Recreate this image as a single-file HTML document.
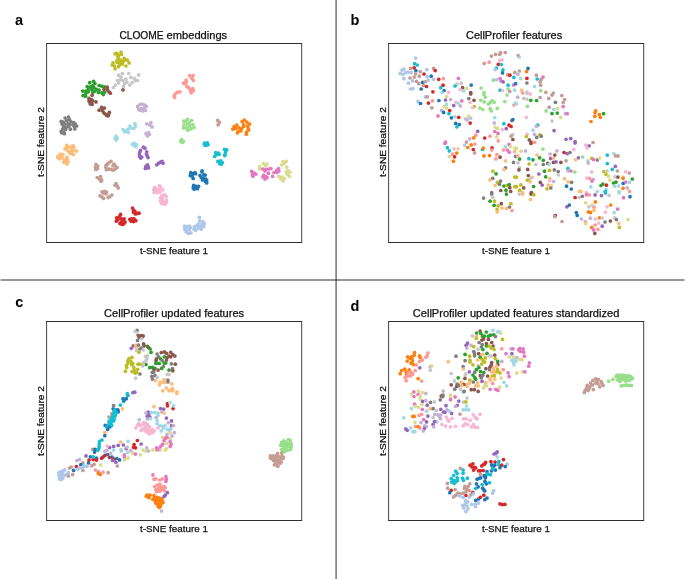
<!DOCTYPE html>
<html><head><meta charset="utf-8"><style>
html,body{margin:0;padding:0;background:#fff;width:685px;height:579px;overflow:hidden}
svg{position:absolute;left:0;top:0;display:block;will-change:transform}
text{font-family:"Liberation Sans",sans-serif;fill:#111;stroke:#111;stroke-width:0.25px}
.t{font-size:10.2px}
.ax{font-size:9.7px}
.lb{font-size:14.5px;font-weight:bold;fill:#000;stroke:none}
</style></head><body>
<svg width="685" height="579" viewBox="0 0 685 579">
<g stroke="#000" stroke-opacity="0.55" stroke-width="1.5" fill="none">
<line x1="336.1" y1="0" x2="336.1" y2="579"/>
<line x1="0.5" y1="280.05" x2="684.5" y2="280.05"/>
</g>
<text class="lb" x="15" y="25">a</text>
<text class="lb" x="350.5" y="25">b</text>
<text class="lb" x="15.2" y="307">c</text>
<text class="lb" x="350.5" y="310.6">d</text>
<text class="t" x="119.4" y="39.1" textLength="44.2" lengthAdjust="spacingAndGlyphs">CLOOME</text>
<text class="t" x="166.6" y="39.1" textLength="60.6" lengthAdjust="spacingAndGlyphs">embeddings</text>
<text class="t" x="466.0" y="39.1" textLength="96.2" lengthAdjust="spacingAndGlyphs">CellProfiler features</text>
<text class="t" x="104.1" y="316.5" textLength="140" lengthAdjust="spacingAndGlyphs">CellProfiler updated features</text>
<text class="t" x="412.8" y="316.5" textLength="206.5" lengthAdjust="spacingAndGlyphs">CellProfiler updated features standardized</text>
<text class="ax" x="140" y="253.8" textLength="68" lengthAdjust="spacingAndGlyphs">t-SNE feature 1</text>
<text class="ax" x="482" y="253.8" textLength="68" lengthAdjust="spacingAndGlyphs">t-SNE feature 1</text>
<text class="ax" x="140" y="531.8" textLength="68" lengthAdjust="spacingAndGlyphs">t-SNE feature 1</text>
<text class="ax" x="482" y="531.8" textLength="68" lengthAdjust="spacingAndGlyphs">t-SNE feature 1</text>
<text class="ax" transform="translate(43.8,177.1) rotate(-90)" textLength="70" lengthAdjust="spacingAndGlyphs">t-SNE feature 2</text>
<text class="ax" transform="translate(385.6,177.1) rotate(-90)" textLength="70" lengthAdjust="spacingAndGlyphs">t-SNE feature 2</text>
<text class="ax" transform="translate(43.8,456.1) rotate(-90)" textLength="70" lengthAdjust="spacingAndGlyphs">t-SNE feature 2</text>
<text class="ax" transform="translate(385.6,456.1) rotate(-90)" textLength="70" lengthAdjust="spacingAndGlyphs">t-SNE feature 2</text>
<g>
<circle cx="115.1" cy="53.8" r="1.85" fill="#bcbd22"/>
<circle cx="116.8" cy="53.4" r="1.85" fill="#bcbd22"/>
<circle cx="121.0" cy="52.0" r="1.85" fill="#bcbd22"/>
<circle cx="121.4" cy="54.5" r="1.85" fill="#bcbd22"/>
<circle cx="118.6" cy="55.2" r="1.85" fill="#bcbd22"/>
<circle cx="117.9" cy="57.3" r="1.85" fill="#bcbd22"/>
<circle cx="118.9" cy="59.4" r="1.85" fill="#bcbd22"/>
<circle cx="121.0" cy="60.4" r="1.85" fill="#bcbd22"/>
<circle cx="124.2" cy="58.3" r="1.85" fill="#bcbd22"/>
<circle cx="124.9" cy="60.1" r="1.85" fill="#bcbd22"/>
<circle cx="127.3" cy="60.1" r="1.85" fill="#bcbd22"/>
<circle cx="129.1" cy="62.9" r="1.85" fill="#bcbd22"/>
<circle cx="125.9" cy="66.0" r="1.85" fill="#bcbd22"/>
<circle cx="122.4" cy="63.9" r="1.85" fill="#bcbd22"/>
<circle cx="119.6" cy="63.2" r="1.85" fill="#bcbd22"/>
<circle cx="117.2" cy="62.5" r="1.85" fill="#bcbd22"/>
<circle cx="113.0" cy="62.9" r="1.85" fill="#bcbd22"/>
<circle cx="112.3" cy="65.0" r="1.85" fill="#bcbd22"/>
<circle cx="114.4" cy="66.0" r="1.85" fill="#bcbd22"/>
<circle cx="115.1" cy="68.8" r="1.85" fill="#bcbd22"/>
<circle cx="118.6" cy="66.7" r="1.85" fill="#bcbd22"/>
<circle cx="121.0" cy="62.5" r="1.85" fill="#bcbd22"/>
<circle cx="123.1" cy="61.8" r="1.85" fill="#bcbd22"/>
<circle cx="116.8" cy="60.8" r="1.85" fill="#bcbd22"/>
<circle cx="120.0" cy="64.6" r="1.85" fill="#bcbd22"/>
<circle cx="122.4" cy="73.5" r="1.85" fill="#c7c7c7"/>
<circle cx="118.6" cy="75.3" r="1.85" fill="#c7c7c7"/>
<circle cx="121.0" cy="77.0" r="1.85" fill="#c7c7c7"/>
<circle cx="128.7" cy="73.5" r="1.85" fill="#c7c7c7"/>
<circle cx="130.8" cy="77.4" r="1.85" fill="#c7c7c7"/>
<circle cx="138.5" cy="74.9" r="1.85" fill="#c7c7c7"/>
<circle cx="134.3" cy="78.4" r="1.85" fill="#c7c7c7"/>
<circle cx="137.5" cy="80.5" r="1.85" fill="#c7c7c7"/>
<circle cx="117.5" cy="80.5" r="1.85" fill="#c7c7c7"/>
<circle cx="120.3" cy="79.8" r="1.85" fill="#c7c7c7"/>
<circle cx="123.1" cy="80.5" r="1.85" fill="#c7c7c7"/>
<circle cx="125.9" cy="79.1" r="1.85" fill="#c7c7c7"/>
<circle cx="127.0" cy="82.3" r="1.85" fill="#c7c7c7"/>
<circle cx="124.5" cy="83.7" r="1.85" fill="#c7c7c7"/>
<circle cx="118.6" cy="83.0" r="1.85" fill="#c7c7c7"/>
<circle cx="115.4" cy="85.1" r="1.85" fill="#c7c7c7"/>
<circle cx="113.3" cy="87.5" r="1.85" fill="#c7c7c7"/>
<circle cx="123.5" cy="86.5" r="1.85" fill="#c7c7c7"/>
<circle cx="129.8" cy="85.1" r="1.85" fill="#c7c7c7"/>
<circle cx="132.2" cy="82.6" r="1.85" fill="#c7c7c7"/>
<circle cx="135.4" cy="80.5" r="1.85" fill="#c7c7c7"/>
<circle cx="93.5" cy="81.3" r="1.85" fill="#2ca02c"/>
<circle cx="89.7" cy="82.7" r="1.85" fill="#2ca02c"/>
<circle cx="94.9" cy="83.4" r="1.85" fill="#2ca02c"/>
<circle cx="92.8" cy="85.5" r="1.85" fill="#2ca02c"/>
<circle cx="87.2" cy="86.5" r="1.85" fill="#2ca02c"/>
<circle cx="90.4" cy="86.9" r="1.85" fill="#2ca02c"/>
<circle cx="93.9" cy="87.6" r="1.85" fill="#2ca02c"/>
<circle cx="99.1" cy="85.5" r="1.85" fill="#2ca02c"/>
<circle cx="101.9" cy="86.2" r="1.85" fill="#2ca02c"/>
<circle cx="104.4" cy="86.9" r="1.85" fill="#2ca02c"/>
<circle cx="88.3" cy="89.0" r="1.85" fill="#2ca02c"/>
<circle cx="91.8" cy="89.7" r="1.85" fill="#2ca02c"/>
<circle cx="96.3" cy="89.3" r="1.85" fill="#2ca02c"/>
<circle cx="82.7" cy="91.1" r="1.85" fill="#2ca02c"/>
<circle cx="85.8" cy="91.1" r="1.85" fill="#2ca02c"/>
<circle cx="88.3" cy="91.8" r="1.85" fill="#2ca02c"/>
<circle cx="92.8" cy="92.5" r="1.85" fill="#2ca02c"/>
<circle cx="98.4" cy="92.5" r="1.85" fill="#2ca02c"/>
<circle cx="101.9" cy="92.8" r="1.85" fill="#2ca02c"/>
<circle cx="104.7" cy="92.1" r="1.85" fill="#2ca02c"/>
<circle cx="103.3" cy="94.6" r="1.85" fill="#2ca02c"/>
<circle cx="83.0" cy="95.6" r="1.85" fill="#2ca02c"/>
<circle cx="85.5" cy="96.3" r="1.85" fill="#2ca02c"/>
<circle cx="85.8" cy="93.5" r="1.85" fill="#2ca02c"/>
<circle cx="94.9" cy="91.1" r="1.85" fill="#2ca02c"/>
<circle cx="99.1" cy="90.0" r="1.85" fill="#2ca02c"/>
<circle cx="107.2" cy="87.2" r="1.85" fill="#8c564b"/>
<circle cx="104.0" cy="89.3" r="1.85" fill="#8c564b"/>
<circle cx="107.5" cy="89.7" r="1.85" fill="#8c564b"/>
<circle cx="108.9" cy="91.8" r="1.85" fill="#8c564b"/>
<circle cx="110.3" cy="93.2" r="1.85" fill="#8c564b"/>
<circle cx="92.1" cy="95.3" r="1.85" fill="#8c564b"/>
<circle cx="89.0" cy="98.4" r="1.85" fill="#8c564b"/>
<circle cx="91.4" cy="99.5" r="1.85" fill="#8c564b"/>
<circle cx="92.8" cy="100.9" r="1.85" fill="#8c564b"/>
<circle cx="89.0" cy="100.9" r="1.85" fill="#8c564b"/>
<circle cx="90.0" cy="103.0" r="1.85" fill="#8c564b"/>
<circle cx="92.1" cy="104.4" r="1.85" fill="#8c564b"/>
<circle cx="96.0" cy="101.9" r="1.85" fill="#8c564b"/>
<circle cx="123.0" cy="89.9" r="1.85" fill="#8c564b"/>
<circle cx="91.4" cy="101.0" r="1.85" fill="#8c564b"/>
<circle cx="90.7" cy="104.2" r="1.85" fill="#8c564b"/>
<circle cx="101.6" cy="107.4" r="1.85" fill="#8c564b"/>
<circle cx="104.4" cy="108.1" r="1.85" fill="#8c564b"/>
<circle cx="99.1" cy="110.2" r="1.85" fill="#8c564b"/>
<circle cx="102.3" cy="110.5" r="1.85" fill="#8c564b"/>
<circle cx="103.7" cy="112.6" r="1.85" fill="#8c564b"/>
<circle cx="105.1" cy="114.0" r="1.85" fill="#8c564b"/>
<circle cx="106.8" cy="115.4" r="1.85" fill="#8c564b"/>
<circle cx="108.6" cy="114.4" r="1.85" fill="#8c564b"/>
<circle cx="109.3" cy="112.3" r="1.85" fill="#8c564b"/>
<circle cx="108.2" cy="115.8" r="1.85" fill="#8c564b"/>
<circle cx="123.0" cy="129.6" r="1.85" fill="#9edae5"/>
<circle cx="124.6" cy="131.8" r="1.85" fill="#9edae5"/>
<circle cx="126.6" cy="130.7" r="1.85" fill="#9edae5"/>
<circle cx="128.2" cy="129.1" r="1.85" fill="#9edae5"/>
<circle cx="128.2" cy="132.4" r="1.85" fill="#9edae5"/>
<circle cx="129.9" cy="126.0" r="1.85" fill="#9edae5"/>
<circle cx="131.3" cy="128.0" r="1.85" fill="#9edae5"/>
<circle cx="133.8" cy="128.5" r="1.85" fill="#9edae5"/>
<circle cx="134.9" cy="123.5" r="1.85" fill="#9edae5"/>
<circle cx="135.4" cy="126.3" r="1.85" fill="#9edae5"/>
<circle cx="116.1" cy="136.2" r="1.85" fill="#9edae5"/>
<circle cx="117.2" cy="137.9" r="1.85" fill="#9edae5"/>
<circle cx="115.0" cy="138.5" r="1.85" fill="#9edae5"/>
<circle cx="116.1" cy="140.1" r="1.85" fill="#9edae5"/>
<circle cx="132.1" cy="144.0" r="1.85" fill="#9edae5"/>
<circle cx="134.3" cy="143.4" r="1.85" fill="#9edae5"/>
<circle cx="136.5" cy="144.5" r="1.85" fill="#9edae5"/>
<circle cx="136.0" cy="146.7" r="1.85" fill="#9edae5"/>
<circle cx="133.8" cy="145.6" r="1.85" fill="#9edae5"/>
<circle cx="137.6" cy="106.4" r="1.85" fill="#c5b0d5"/>
<circle cx="139.9" cy="104.5" r="1.85" fill="#c5b0d5"/>
<circle cx="142.2" cy="104.1" r="1.85" fill="#c5b0d5"/>
<circle cx="144.8" cy="105.2" r="1.85" fill="#c5b0d5"/>
<circle cx="146.3" cy="106.4" r="1.85" fill="#c5b0d5"/>
<circle cx="138.7" cy="109.0" r="1.85" fill="#c5b0d5"/>
<circle cx="141.4" cy="108.6" r="1.85" fill="#c5b0d5"/>
<circle cx="144.1" cy="108.3" r="1.85" fill="#c5b0d5"/>
<circle cx="145.6" cy="110.5" r="1.85" fill="#c5b0d5"/>
<circle cx="142.5" cy="110.9" r="1.85" fill="#c5b0d5"/>
<circle cx="139.9" cy="110.2" r="1.85" fill="#c5b0d5"/>
<circle cx="146.7" cy="123.8" r="1.85" fill="#c5b0d5"/>
<circle cx="150.9" cy="122.7" r="1.85" fill="#c5b0d5"/>
<circle cx="149.8" cy="125.0" r="1.85" fill="#c5b0d5"/>
<circle cx="152.0" cy="126.9" r="1.85" fill="#c5b0d5"/>
<circle cx="146.0" cy="133.7" r="1.85" fill="#c5b0d5"/>
<circle cx="148.6" cy="132.6" r="1.85" fill="#c5b0d5"/>
<circle cx="147.5" cy="136.0" r="1.85" fill="#c5b0d5"/>
<circle cx="149.4" cy="134.5" r="1.85" fill="#c5b0d5"/>
<circle cx="65.1" cy="118.0" r="1.85" fill="#7f7f7f"/>
<circle cx="68.5" cy="117.1" r="1.85" fill="#7f7f7f"/>
<circle cx="61.2" cy="121.4" r="1.85" fill="#7f7f7f"/>
<circle cx="63.4" cy="122.1" r="1.85" fill="#7f7f7f"/>
<circle cx="66.6" cy="120.5" r="1.85" fill="#7f7f7f"/>
<circle cx="69.5" cy="119.7" r="1.85" fill="#7f7f7f"/>
<circle cx="70.9" cy="121.7" r="1.85" fill="#7f7f7f"/>
<circle cx="62.0" cy="124.1" r="1.85" fill="#7f7f7f"/>
<circle cx="64.9" cy="124.1" r="1.85" fill="#7f7f7f"/>
<circle cx="68.0" cy="123.6" r="1.85" fill="#7f7f7f"/>
<circle cx="70.0" cy="124.6" r="1.85" fill="#7f7f7f"/>
<circle cx="63.7" cy="126.5" r="1.85" fill="#7f7f7f"/>
<circle cx="66.6" cy="127.0" r="1.85" fill="#7f7f7f"/>
<circle cx="68.5" cy="126.5" r="1.85" fill="#7f7f7f"/>
<circle cx="70.4" cy="129.2" r="1.85" fill="#7f7f7f"/>
<circle cx="62.7" cy="128.9" r="1.85" fill="#7f7f7f"/>
<circle cx="65.6" cy="129.4" r="1.85" fill="#7f7f7f"/>
<circle cx="61.2" cy="131.3" r="1.85" fill="#7f7f7f"/>
<circle cx="63.7" cy="132.3" r="1.85" fill="#7f7f7f"/>
<circle cx="64.4" cy="133.7" r="1.85" fill="#7f7f7f"/>
<circle cx="61.7" cy="132.8" r="1.85" fill="#7f7f7f"/>
<circle cx="73.8" cy="122.6" r="1.85" fill="#7f7f7f"/>
<circle cx="75.3" cy="124.1" r="1.85" fill="#7f7f7f"/>
<circle cx="76.7" cy="126.0" r="1.85" fill="#7f7f7f"/>
<circle cx="74.3" cy="126.5" r="1.85" fill="#7f7f7f"/>
<circle cx="74.8" cy="128.9" r="1.85" fill="#7f7f7f"/>
<circle cx="73.3" cy="125.0" r="1.85" fill="#7f7f7f"/>
<circle cx="66.7" cy="145.3" r="1.85" fill="#ffbb78"/>
<circle cx="68.7" cy="146.8" r="1.85" fill="#ffbb78"/>
<circle cx="65.0" cy="148.7" r="1.85" fill="#ffbb78"/>
<circle cx="72.8" cy="145.6" r="1.85" fill="#ffbb78"/>
<circle cx="71.3" cy="147.7" r="1.85" fill="#ffbb78"/>
<circle cx="74.0" cy="147.0" r="1.85" fill="#ffbb78"/>
<circle cx="67.5" cy="150.6" r="1.85" fill="#ffbb78"/>
<circle cx="69.4" cy="152.1" r="1.85" fill="#ffbb78"/>
<circle cx="71.8" cy="150.9" r="1.85" fill="#ffbb78"/>
<circle cx="73.7" cy="150.1" r="1.85" fill="#ffbb78"/>
<circle cx="76.6" cy="151.1" r="1.85" fill="#ffbb78"/>
<circle cx="72.3" cy="153.5" r="1.85" fill="#ffbb78"/>
<circle cx="73.3" cy="154.5" r="1.85" fill="#ffbb78"/>
<circle cx="70.4" cy="153.5" r="1.85" fill="#ffbb78"/>
<circle cx="66.5" cy="148.7" r="1.85" fill="#ffbb78"/>
<circle cx="60.5" cy="154.0" r="1.85" fill="#ffbb78"/>
<circle cx="62.9" cy="154.5" r="1.85" fill="#ffbb78"/>
<circle cx="58.3" cy="156.0" r="1.85" fill="#ffbb78"/>
<circle cx="61.2" cy="156.4" r="1.85" fill="#ffbb78"/>
<circle cx="59.2" cy="158.8" r="1.85" fill="#ffbb78"/>
<circle cx="62.1" cy="157.9" r="1.85" fill="#ffbb78"/>
<circle cx="57.8" cy="157.2" r="1.85" fill="#ffbb78"/>
<circle cx="66.7" cy="157.4" r="1.85" fill="#ffbb78"/>
<circle cx="67.5" cy="159.3" r="1.85" fill="#ffbb78"/>
<circle cx="64.6" cy="160.3" r="1.85" fill="#ffbb78"/>
<circle cx="63.8" cy="162.2" r="1.85" fill="#ffbb78"/>
<circle cx="66.5" cy="162.7" r="1.85" fill="#ffbb78"/>
<circle cx="68.0" cy="162.0" r="1.85" fill="#ffbb78"/>
<circle cx="67.0" cy="163.9" r="1.85" fill="#ffbb78"/>
<circle cx="95.9" cy="164.4" r="1.85" fill="#c49c94"/>
<circle cx="97.7" cy="166.0" r="1.85" fill="#c49c94"/>
<circle cx="95.4" cy="167.6" r="1.85" fill="#c49c94"/>
<circle cx="97.5" cy="168.6" r="1.85" fill="#c49c94"/>
<circle cx="95.9" cy="169.4" r="1.85" fill="#c49c94"/>
<circle cx="111.1" cy="161.3" r="1.85" fill="#c49c94"/>
<circle cx="109.0" cy="162.6" r="1.85" fill="#c49c94"/>
<circle cx="107.7" cy="163.9" r="1.85" fill="#c49c94"/>
<circle cx="106.1" cy="165.2" r="1.85" fill="#c49c94"/>
<circle cx="105.9" cy="167.3" r="1.85" fill="#c49c94"/>
<circle cx="106.4" cy="169.7" r="1.85" fill="#c49c94"/>
<circle cx="109.0" cy="169.1" r="1.85" fill="#c49c94"/>
<circle cx="111.1" cy="169.4" r="1.85" fill="#c49c94"/>
<circle cx="113.2" cy="170.2" r="1.85" fill="#c49c94"/>
<circle cx="115.3" cy="168.9" r="1.85" fill="#c49c94"/>
<circle cx="116.9" cy="167.6" r="1.85" fill="#c49c94"/>
<circle cx="115.3" cy="166.0" r="1.85" fill="#c49c94"/>
<circle cx="114.0" cy="164.1" r="1.85" fill="#c49c94"/>
<circle cx="113.0" cy="165.7" r="1.85" fill="#c49c94"/>
<circle cx="97.2" cy="177.5" r="1.85" fill="#c49c94"/>
<circle cx="100.6" cy="176.5" r="1.85" fill="#c49c94"/>
<circle cx="99.3" cy="179.1" r="1.85" fill="#c49c94"/>
<circle cx="101.7" cy="179.9" r="1.85" fill="#c49c94"/>
<circle cx="100.9" cy="181.2" r="1.85" fill="#c49c94"/>
<circle cx="116.1" cy="183.7" r="1.85" fill="#c49c94"/>
<circle cx="115.0" cy="185.3" r="1.85" fill="#c49c94"/>
<circle cx="117.1" cy="185.8" r="1.85" fill="#c49c94"/>
<circle cx="118.2" cy="187.9" r="1.85" fill="#c49c94"/>
<circle cx="101.9" cy="191.8" r="1.85" fill="#c49c94"/>
<circle cx="104.5" cy="191.3" r="1.85" fill="#c49c94"/>
<circle cx="106.6" cy="192.1" r="1.85" fill="#c49c94"/>
<circle cx="106.1" cy="193.9" r="1.85" fill="#c49c94"/>
<circle cx="103.5" cy="193.1" r="1.85" fill="#c49c94"/>
<circle cx="100.0" cy="195.8" r="1.85" fill="#c49c94"/>
<circle cx="101.9" cy="196.8" r="1.85" fill="#c49c94"/>
<circle cx="103.5" cy="198.4" r="1.85" fill="#c49c94"/>
<circle cx="111.9" cy="195.0" r="1.85" fill="#c49c94"/>
<circle cx="109.8" cy="196.6" r="1.85" fill="#c49c94"/>
<circle cx="108.2" cy="197.6" r="1.85" fill="#c49c94"/>
<circle cx="154.7" cy="187.3" r="1.85" fill="#f7b6d2"/>
<circle cx="159.5" cy="185.6" r="1.85" fill="#f7b6d2"/>
<circle cx="160.5" cy="187.3" r="1.85" fill="#f7b6d2"/>
<circle cx="162.9" cy="189.9" r="1.85" fill="#f7b6d2"/>
<circle cx="153.7" cy="189.7" r="1.85" fill="#f7b6d2"/>
<circle cx="156.6" cy="189.2" r="1.85" fill="#f7b6d2"/>
<circle cx="159.1" cy="189.4" r="1.85" fill="#f7b6d2"/>
<circle cx="154.2" cy="192.6" r="1.85" fill="#f7b6d2"/>
<circle cx="157.1" cy="192.6" r="1.85" fill="#f7b6d2"/>
<circle cx="160.0" cy="192.1" r="1.85" fill="#f7b6d2"/>
<circle cx="155.7" cy="191.1" r="1.85" fill="#f7b6d2"/>
<circle cx="162.0" cy="195.5" r="1.85" fill="#f7b6d2"/>
<circle cx="164.4" cy="194.7" r="1.85" fill="#f7b6d2"/>
<circle cx="166.3" cy="196.7" r="1.85" fill="#f7b6d2"/>
<circle cx="160.5" cy="197.9" r="1.85" fill="#f7b6d2"/>
<circle cx="162.4" cy="198.4" r="1.85" fill="#f7b6d2"/>
<circle cx="160.5" cy="200.8" r="1.85" fill="#f7b6d2"/>
<circle cx="162.9" cy="201.3" r="1.85" fill="#f7b6d2"/>
<circle cx="166.3" cy="200.3" r="1.85" fill="#f7b6d2"/>
<circle cx="162.0" cy="203.7" r="1.85" fill="#f7b6d2"/>
<circle cx="164.9" cy="204.2" r="1.85" fill="#f7b6d2"/>
<circle cx="166.3" cy="202.7" r="1.85" fill="#f7b6d2"/>
<circle cx="163.9" cy="202.7" r="1.85" fill="#f7b6d2"/>
<circle cx="161.0" cy="202.2" r="1.85" fill="#f7b6d2"/>
<circle cx="120.6" cy="214.4" r="1.85" fill="#d62728"/>
<circle cx="119.5" cy="216.5" r="1.85" fill="#d62728"/>
<circle cx="116.7" cy="217.9" r="1.85" fill="#d62728"/>
<circle cx="118.1" cy="219.3" r="1.85" fill="#d62728"/>
<circle cx="116.4" cy="221.2" r="1.85" fill="#d62728"/>
<circle cx="121.3" cy="218.8" r="1.85" fill="#d62728"/>
<circle cx="124.1" cy="218.8" r="1.85" fill="#d62728"/>
<circle cx="123.2" cy="220.7" r="1.85" fill="#d62728"/>
<circle cx="121.3" cy="222.1" r="1.85" fill="#d62728"/>
<circle cx="125.1" cy="222.1" r="1.85" fill="#d62728"/>
<circle cx="122.0" cy="224.4" r="1.85" fill="#d62728"/>
<circle cx="119.9" cy="223.5" r="1.85" fill="#d62728"/>
<circle cx="123.7" cy="224.0" r="1.85" fill="#d62728"/>
<circle cx="129.8" cy="219.3" r="1.85" fill="#d62728"/>
<circle cx="131.6" cy="218.8" r="1.85" fill="#d62728"/>
<circle cx="134.0" cy="218.8" r="1.85" fill="#d62728"/>
<circle cx="135.8" cy="220.7" r="1.85" fill="#d62728"/>
<circle cx="133.5" cy="221.6" r="1.85" fill="#d62728"/>
<circle cx="131.2" cy="221.2" r="1.85" fill="#d62728"/>
<circle cx="132.6" cy="208.1" r="1.85" fill="#d62728"/>
<circle cx="133.5" cy="210.2" r="1.85" fill="#d62728"/>
<circle cx="134.9" cy="211.3" r="1.85" fill="#d62728"/>
<circle cx="133.5" cy="212.3" r="1.85" fill="#d62728"/>
<circle cx="135.4" cy="213.9" r="1.85" fill="#d62728"/>
<circle cx="137.2" cy="213.4" r="1.85" fill="#d62728"/>
<circle cx="139.1" cy="213.2" r="1.85" fill="#d62728"/>
<circle cx="204.6" cy="143.2" r="1.85" fill="#17becf"/>
<circle cx="207.4" cy="142.9" r="1.85" fill="#17becf"/>
<circle cx="205.7" cy="145.4" r="1.85" fill="#17becf"/>
<circle cx="208.0" cy="144.8" r="1.85" fill="#17becf"/>
<circle cx="204.4" cy="144.8" r="1.85" fill="#17becf"/>
<circle cx="215.7" cy="152.6" r="1.85" fill="#17becf"/>
<circle cx="218.5" cy="153.1" r="1.85" fill="#17becf"/>
<circle cx="216.2" cy="154.8" r="1.85" fill="#17becf"/>
<circle cx="214.6" cy="156.5" r="1.85" fill="#17becf"/>
<circle cx="219.0" cy="154.2" r="1.85" fill="#17becf"/>
<circle cx="224.5" cy="149.3" r="1.85" fill="#17becf"/>
<circle cx="226.7" cy="149.8" r="1.85" fill="#17becf"/>
<circle cx="225.6" cy="152.0" r="1.85" fill="#17becf"/>
<circle cx="225.1" cy="154.2" r="1.85" fill="#17becf"/>
<circle cx="224.8" cy="155.6" r="1.85" fill="#17becf"/>
<circle cx="217.9" cy="161.4" r="1.85" fill="#17becf"/>
<circle cx="220.7" cy="160.9" r="1.85" fill="#17becf"/>
<circle cx="222.3" cy="162.5" r="1.85" fill="#17becf"/>
<circle cx="219.6" cy="163.6" r="1.85" fill="#17becf"/>
<circle cx="221.2" cy="164.2" r="1.85" fill="#17becf"/>
<circle cx="190.8" cy="172.7" r="1.85" fill="#1f77b4"/>
<circle cx="192.7" cy="173.7" r="1.85" fill="#1f77b4"/>
<circle cx="194.9" cy="172.7" r="1.85" fill="#1f77b4"/>
<circle cx="195.6" cy="173.7" r="1.85" fill="#1f77b4"/>
<circle cx="190.3" cy="175.6" r="1.85" fill="#1f77b4"/>
<circle cx="192.2" cy="176.1" r="1.85" fill="#1f77b4"/>
<circle cx="193.2" cy="178.5" r="1.85" fill="#1f77b4"/>
<circle cx="202.1" cy="170.8" r="1.85" fill="#1f77b4"/>
<circle cx="201.9" cy="172.0" r="1.85" fill="#1f77b4"/>
<circle cx="200.0" cy="175.6" r="1.85" fill="#1f77b4"/>
<circle cx="201.4" cy="177.5" r="1.85" fill="#1f77b4"/>
<circle cx="203.8" cy="174.9" r="1.85" fill="#1f77b4"/>
<circle cx="205.3" cy="175.1" r="1.85" fill="#1f77b4"/>
<circle cx="203.4" cy="178.5" r="1.85" fill="#1f77b4"/>
<circle cx="205.8" cy="179.0" r="1.85" fill="#1f77b4"/>
<circle cx="206.7" cy="180.4" r="1.85" fill="#1f77b4"/>
<circle cx="205.3" cy="181.4" r="1.85" fill="#1f77b4"/>
<circle cx="206.7" cy="182.9" r="1.85" fill="#1f77b4"/>
<circle cx="202.4" cy="180.0" r="1.85" fill="#1f77b4"/>
<circle cx="193.7" cy="185.3" r="1.85" fill="#1f77b4"/>
<circle cx="196.1" cy="186.3" r="1.85" fill="#1f77b4"/>
<circle cx="198.5" cy="186.3" r="1.85" fill="#1f77b4"/>
<circle cx="193.2" cy="187.7" r="1.85" fill="#1f77b4"/>
<circle cx="195.6" cy="188.2" r="1.85" fill="#1f77b4"/>
<circle cx="197.5" cy="188.7" r="1.85" fill="#1f77b4"/>
<circle cx="194.2" cy="189.2" r="1.85" fill="#1f77b4"/>
<circle cx="143.3" cy="147.2" r="1.85" fill="#9467bd"/>
<circle cx="144.9" cy="148.2" r="1.85" fill="#9467bd"/>
<circle cx="140.5" cy="150.3" r="1.85" fill="#9467bd"/>
<circle cx="139.7" cy="152.4" r="1.85" fill="#9467bd"/>
<circle cx="139.4" cy="154.4" r="1.85" fill="#9467bd"/>
<circle cx="139.7" cy="156.5" r="1.85" fill="#9467bd"/>
<circle cx="140.7" cy="158.1" r="1.85" fill="#9467bd"/>
<circle cx="141.8" cy="157.0" r="1.85" fill="#9467bd"/>
<circle cx="146.7" cy="151.8" r="1.85" fill="#9467bd"/>
<circle cx="146.4" cy="153.9" r="1.85" fill="#9467bd"/>
<circle cx="147.2" cy="155.7" r="1.85" fill="#9467bd"/>
<circle cx="148.0" cy="157.6" r="1.85" fill="#9467bd"/>
<circle cx="147.5" cy="164.8" r="1.85" fill="#9467bd"/>
<circle cx="145.9" cy="166.4" r="1.85" fill="#9467bd"/>
<circle cx="145.4" cy="168.4" r="1.85" fill="#9467bd"/>
<circle cx="148.5" cy="167.9" r="1.85" fill="#9467bd"/>
<circle cx="148.0" cy="166.4" r="1.85" fill="#9467bd"/>
<circle cx="156.8" cy="164.8" r="1.85" fill="#9467bd"/>
<circle cx="158.4" cy="163.3" r="1.85" fill="#9467bd"/>
<circle cx="160.4" cy="162.2" r="1.85" fill="#9467bd"/>
<circle cx="162.0" cy="161.4" r="1.85" fill="#9467bd"/>
<circle cx="163.0" cy="163.3" r="1.85" fill="#9467bd"/>
<circle cx="189.7" cy="75.7" r="1.85" fill="#ff9896"/>
<circle cx="193.1" cy="75.7" r="1.85" fill="#ff9896"/>
<circle cx="191.8" cy="78.3" r="1.85" fill="#ff9896"/>
<circle cx="193.3" cy="80.4" r="1.85" fill="#ff9896"/>
<circle cx="186.1" cy="80.1" r="1.85" fill="#ff9896"/>
<circle cx="186.3" cy="81.9" r="1.85" fill="#ff9896"/>
<circle cx="183.5" cy="83.2" r="1.85" fill="#ff9896"/>
<circle cx="185.5" cy="84.0" r="1.85" fill="#ff9896"/>
<circle cx="187.1" cy="86.6" r="1.85" fill="#ff9896"/>
<circle cx="188.7" cy="87.6" r="1.85" fill="#ff9896"/>
<circle cx="190.2" cy="89.7" r="1.85" fill="#ff9896"/>
<circle cx="192.8" cy="88.7" r="1.85" fill="#ff9896"/>
<circle cx="193.3" cy="90.7" r="1.85" fill="#ff9896"/>
<circle cx="191.2" cy="92.8" r="1.85" fill="#ff9896"/>
<circle cx="190.7" cy="91.2" r="1.85" fill="#ff9896"/>
<circle cx="179.8" cy="91.8" r="1.85" fill="#ff9896"/>
<circle cx="177.3" cy="92.3" r="1.85" fill="#ff9896"/>
<circle cx="175.2" cy="93.8" r="1.85" fill="#ff9896"/>
<circle cx="174.1" cy="95.9" r="1.85" fill="#ff9896"/>
<circle cx="174.7" cy="97.5" r="1.85" fill="#ff9896"/>
<circle cx="187.5" cy="119.3" r="1.85" fill="#98df8a"/>
<circle cx="183.7" cy="121.1" r="1.85" fill="#98df8a"/>
<circle cx="185.7" cy="121.4" r="1.85" fill="#98df8a"/>
<circle cx="191.6" cy="120.5" r="1.85" fill="#98df8a"/>
<circle cx="189.3" cy="122.9" r="1.85" fill="#98df8a"/>
<circle cx="184.0" cy="124.9" r="1.85" fill="#98df8a"/>
<circle cx="187.5" cy="124.3" r="1.85" fill="#98df8a"/>
<circle cx="192.8" cy="124.6" r="1.85" fill="#98df8a"/>
<circle cx="183.4" cy="127.9" r="1.85" fill="#98df8a"/>
<circle cx="186.6" cy="127.9" r="1.85" fill="#98df8a"/>
<circle cx="189.9" cy="126.7" r="1.85" fill="#98df8a"/>
<circle cx="194.0" cy="127.6" r="1.85" fill="#98df8a"/>
<circle cx="187.8" cy="130.2" r="1.85" fill="#98df8a"/>
<circle cx="191.0" cy="129.0" r="1.85" fill="#98df8a"/>
<circle cx="181.6" cy="139.6" r="1.85" fill="#98df8a"/>
<circle cx="180.5" cy="141.1" r="1.85" fill="#98df8a"/>
<circle cx="183.4" cy="141.4" r="1.85" fill="#98df8a"/>
<circle cx="182.2" cy="142.5" r="1.85" fill="#98df8a"/>
<circle cx="217.7" cy="120.4" r="1.85" fill="#c49c94"/>
<circle cx="219.4" cy="122.4" r="1.85" fill="#c49c94"/>
<circle cx="218.1" cy="124.8" r="1.85" fill="#c49c94"/>
<circle cx="244.3" cy="120.1" r="1.85" fill="#ff7f0e"/>
<circle cx="242.2" cy="121.7" r="1.85" fill="#ff7f0e"/>
<circle cx="246.9" cy="122.1" r="1.85" fill="#ff7f0e"/>
<circle cx="249.6" cy="124.1" r="1.85" fill="#ff7f0e"/>
<circle cx="243.6" cy="124.8" r="1.85" fill="#ff7f0e"/>
<circle cx="236.9" cy="125.1" r="1.85" fill="#ff7f0e"/>
<circle cx="234.2" cy="126.4" r="1.85" fill="#ff7f0e"/>
<circle cx="232.8" cy="129.1" r="1.85" fill="#ff7f0e"/>
<circle cx="235.5" cy="128.5" r="1.85" fill="#ff7f0e"/>
<circle cx="238.9" cy="127.8" r="1.85" fill="#ff7f0e"/>
<circle cx="241.6" cy="128.5" r="1.85" fill="#ff7f0e"/>
<circle cx="243.6" cy="126.4" r="1.85" fill="#ff7f0e"/>
<circle cx="248.3" cy="128.5" r="1.85" fill="#ff7f0e"/>
<circle cx="238.2" cy="131.5" r="1.85" fill="#ff7f0e"/>
<circle cx="240.9" cy="130.8" r="1.85" fill="#ff7f0e"/>
<circle cx="237.5" cy="132.8" r="1.85" fill="#ff7f0e"/>
<circle cx="246.6" cy="132.1" r="1.85" fill="#ff7f0e"/>
<circle cx="246.3" cy="134.2" r="1.85" fill="#ff7f0e"/>
<circle cx="248.6" cy="130.1" r="1.85" fill="#ff7f0e"/>
<circle cx="247.6" cy="126.1" r="1.85" fill="#ff7f0e"/>
<circle cx="263.5" cy="163.7" r="1.85" fill="#dbdb8d"/>
<circle cx="267.0" cy="164.1" r="1.85" fill="#dbdb8d"/>
<circle cx="259.7" cy="166.5" r="1.85" fill="#dbdb8d"/>
<circle cx="259.7" cy="169.0" r="1.85" fill="#dbdb8d"/>
<circle cx="265.6" cy="165.8" r="1.85" fill="#dbdb8d"/>
<circle cx="283.1" cy="161.6" r="1.85" fill="#dbdb8d"/>
<circle cx="286.3" cy="161.3" r="1.85" fill="#dbdb8d"/>
<circle cx="281.7" cy="164.8" r="1.85" fill="#dbdb8d"/>
<circle cx="284.2" cy="163.4" r="1.85" fill="#dbdb8d"/>
<circle cx="286.6" cy="167.2" r="1.85" fill="#dbdb8d"/>
<circle cx="288.0" cy="170.7" r="1.85" fill="#dbdb8d"/>
<circle cx="290.1" cy="172.1" r="1.85" fill="#dbdb8d"/>
<circle cx="287.3" cy="174.2" r="1.85" fill="#dbdb8d"/>
<circle cx="289.4" cy="176.3" r="1.85" fill="#dbdb8d"/>
<circle cx="286.3" cy="171.8" r="1.85" fill="#dbdb8d"/>
<circle cx="278.6" cy="176.3" r="1.85" fill="#dbdb8d"/>
<circle cx="281.7" cy="177.0" r="1.85" fill="#dbdb8d"/>
<circle cx="284.2" cy="178.4" r="1.85" fill="#dbdb8d"/>
<circle cx="283.1" cy="180.9" r="1.85" fill="#dbdb8d"/>
<circle cx="281.0" cy="179.1" r="1.85" fill="#dbdb8d"/>
<circle cx="251.6" cy="171.4" r="1.85" fill="#e377c2"/>
<circle cx="253.7" cy="172.8" r="1.85" fill="#e377c2"/>
<circle cx="252.3" cy="174.9" r="1.85" fill="#e377c2"/>
<circle cx="255.8" cy="174.2" r="1.85" fill="#e377c2"/>
<circle cx="253.0" cy="176.3" r="1.85" fill="#e377c2"/>
<circle cx="262.8" cy="169.0" r="1.85" fill="#e377c2"/>
<circle cx="265.6" cy="169.7" r="1.85" fill="#e377c2"/>
<circle cx="268.4" cy="169.0" r="1.85" fill="#e377c2"/>
<circle cx="270.9" cy="168.6" r="1.85" fill="#e377c2"/>
<circle cx="264.9" cy="171.1" r="1.85" fill="#e377c2"/>
<circle cx="268.4" cy="173.2" r="1.85" fill="#e377c2"/>
<circle cx="263.5" cy="175.3" r="1.85" fill="#e377c2"/>
<circle cx="265.6" cy="176.3" r="1.85" fill="#e377c2"/>
<circle cx="267.0" cy="177.7" r="1.85" fill="#e377c2"/>
<circle cx="264.9" cy="179.1" r="1.85" fill="#e377c2"/>
<circle cx="262.8" cy="177.0" r="1.85" fill="#e377c2"/>
<circle cx="278.6" cy="168.6" r="1.85" fill="#e377c2"/>
<circle cx="276.8" cy="170.4" r="1.85" fill="#e377c2"/>
<circle cx="274.0" cy="172.5" r="1.85" fill="#e377c2"/>
<circle cx="276.8" cy="172.5" r="1.85" fill="#e377c2"/>
<circle cx="272.6" cy="176.3" r="1.85" fill="#e377c2"/>
<circle cx="278.9" cy="171.1" r="1.85" fill="#e377c2"/>
<circle cx="199.4" cy="217.3" r="1.85" fill="#aec7e8"/>
<circle cx="199.7" cy="220.9" r="1.85" fill="#aec7e8"/>
<circle cx="202.8" cy="221.5" r="1.85" fill="#aec7e8"/>
<circle cx="204.3" cy="223.5" r="1.85" fill="#aec7e8"/>
<circle cx="201.8" cy="224.1" r="1.85" fill="#aec7e8"/>
<circle cx="198.1" cy="224.1" r="1.85" fill="#aec7e8"/>
<circle cx="197.1" cy="225.6" r="1.85" fill="#aec7e8"/>
<circle cx="200.7" cy="226.1" r="1.85" fill="#aec7e8"/>
<circle cx="203.8" cy="226.6" r="1.85" fill="#aec7e8"/>
<circle cx="201.2" cy="229.2" r="1.85" fill="#aec7e8"/>
<circle cx="194.5" cy="226.6" r="1.85" fill="#aec7e8"/>
<circle cx="194.0" cy="229.2" r="1.85" fill="#aec7e8"/>
<circle cx="195.5" cy="230.3" r="1.85" fill="#aec7e8"/>
<circle cx="198.1" cy="228.2" r="1.85" fill="#aec7e8"/>
<circle cx="184.4" cy="226.1" r="1.85" fill="#aec7e8"/>
<circle cx="186.7" cy="226.6" r="1.85" fill="#aec7e8"/>
<circle cx="189.3" cy="226.1" r="1.85" fill="#aec7e8"/>
<circle cx="190.4" cy="227.4" r="1.85" fill="#aec7e8"/>
<circle cx="184.7" cy="229.2" r="1.85" fill="#aec7e8"/>
<circle cx="187.3" cy="229.8" r="1.85" fill="#aec7e8"/>
<circle cx="189.3" cy="229.8" r="1.85" fill="#aec7e8"/>
<circle cx="186.2" cy="231.8" r="1.85" fill="#aec7e8"/>
<circle cx="188.5" cy="233.4" r="1.85" fill="#aec7e8"/>
<circle cx="190.9" cy="232.9" r="1.85" fill="#aec7e8"/>
</g>
<g>
<circle cx="415.6" cy="58.1" r="1.85" fill="#aec7e8"/>
<circle cx="414.6" cy="63.7" r="1.85" fill="#17becf"/>
<circle cx="417.2" cy="65.0" r="1.85" fill="#17becf"/>
<circle cx="410.6" cy="68.4" r="1.85" fill="#c49c94"/>
<circle cx="414.2" cy="67.8" r="1.85" fill="#d62728"/>
<circle cx="415.9" cy="70.6" r="1.85" fill="#1f77b4"/>
<circle cx="402.0" cy="70.1" r="1.85" fill="#aec7e8"/>
<circle cx="403.9" cy="69.2" r="1.85" fill="#aec7e8"/>
<circle cx="400.1" cy="73.4" r="1.85" fill="#aec7e8"/>
<circle cx="403.0" cy="74.3" r="1.85" fill="#aec7e8"/>
<circle cx="405.8" cy="72.7" r="1.85" fill="#aec7e8"/>
<circle cx="408.1" cy="72.2" r="1.85" fill="#aec7e8"/>
<circle cx="411.2" cy="72.7" r="1.85" fill="#aec7e8"/>
<circle cx="403.9" cy="78.7" r="1.85" fill="#aec7e8"/>
<circle cx="410.0" cy="78.0" r="1.85" fill="#c49c94"/>
<circle cx="414.2" cy="77.1" r="1.85" fill="#c49c94"/>
<circle cx="415.6" cy="73.8" r="1.85" fill="#c49c94"/>
<circle cx="420.2" cy="71.5" r="1.85" fill="#c49c94"/>
<circle cx="419.3" cy="76.2" r="1.85" fill="#c49c94"/>
<circle cx="424.0" cy="74.0" r="1.85" fill="#d62728"/>
<circle cx="426.8" cy="69.6" r="1.85" fill="#aec7e8"/>
<circle cx="427.1" cy="76.5" r="1.85" fill="#aec7e8"/>
<circle cx="431.2" cy="76.2" r="1.85" fill="#1f77b4"/>
<circle cx="433.6" cy="68.4" r="1.85" fill="#c49c94"/>
<circle cx="435.2" cy="70.6" r="1.85" fill="#d62728"/>
<circle cx="433.6" cy="79.3" r="1.85" fill="#aec7e8"/>
<circle cx="428.0" cy="80.2" r="1.85" fill="#aec7e8"/>
<circle cx="412.5" cy="80.9" r="1.85" fill="#aec7e8"/>
<circle cx="408.4" cy="83.2" r="1.85" fill="#aec7e8"/>
<circle cx="416.5" cy="81.3" r="1.85" fill="#c49c94"/>
<circle cx="418.8" cy="83.7" r="1.85" fill="#c49c94"/>
<circle cx="422.6" cy="82.3" r="1.85" fill="#1f77b4"/>
<circle cx="425.2" cy="81.8" r="1.85" fill="#c49c94"/>
<circle cx="423.5" cy="85.5" r="1.85" fill="#c49c94"/>
<circle cx="426.5" cy="86.5" r="1.85" fill="#d62728"/>
<circle cx="421.2" cy="89.0" r="1.85" fill="#1f77b4"/>
<circle cx="410.4" cy="89.0" r="1.85" fill="#aec7e8"/>
<circle cx="413.0" cy="88.6" r="1.85" fill="#aec7e8"/>
<circle cx="438.7" cy="79.3" r="1.85" fill="#d62728"/>
<circle cx="443.3" cy="78.7" r="1.85" fill="#ff9896"/>
<circle cx="443.1" cy="85.2" r="1.85" fill="#d62728"/>
<circle cx="440.8" cy="87.7" r="1.85" fill="#17becf"/>
<circle cx="444.1" cy="90.5" r="1.85" fill="#1f77b4"/>
<circle cx="432.9" cy="91.8" r="1.85" fill="#d62728"/>
<circle cx="448.6" cy="92.3" r="1.85" fill="#f7b6d2"/>
<circle cx="442.2" cy="92.5" r="1.85" fill="#9edae5"/>
<circle cx="505.3" cy="52.5" r="1.85" fill="#c49c94"/>
<circle cx="500.6" cy="52.5" r="1.85" fill="#c49c94"/>
<circle cx="499.7" cy="54.4" r="1.85" fill="#c49c94"/>
<circle cx="495.5" cy="54.4" r="1.85" fill="#c49c94"/>
<circle cx="491.4" cy="56.1" r="1.85" fill="#c49c94"/>
<circle cx="484.2" cy="63.4" r="1.85" fill="#c49c94"/>
<circle cx="489.2" cy="62.2" r="1.85" fill="#ff9896"/>
<circle cx="499.7" cy="60.3" r="1.85" fill="#f7b6d2"/>
<circle cx="502.0" cy="59.8" r="1.85" fill="#f7b6d2"/>
<circle cx="498.3" cy="64.3" r="1.85" fill="#d62728"/>
<circle cx="501.3" cy="64.5" r="1.85" fill="#17becf"/>
<circle cx="496.4" cy="68.2" r="1.85" fill="#17becf"/>
<circle cx="495.2" cy="69.6" r="1.85" fill="#aec7e8"/>
<circle cx="502.9" cy="69.9" r="1.85" fill="#17becf"/>
<circle cx="502.5" cy="72.9" r="1.85" fill="#1f77b4"/>
<circle cx="507.6" cy="74.8" r="1.85" fill="#c49c94"/>
<circle cx="509.9" cy="75.2" r="1.85" fill="#d62728"/>
<circle cx="514.8" cy="72.4" r="1.85" fill="#c49c94"/>
<circle cx="513.9" cy="77.4" r="1.85" fill="#17becf"/>
<circle cx="458.4" cy="78.3" r="1.85" fill="#e377c2"/>
<circle cx="457.1" cy="84.1" r="1.85" fill="#c7c7c7"/>
<circle cx="461.2" cy="83.2" r="1.85" fill="#c7c7c7"/>
<circle cx="455.0" cy="86.0" r="1.85" fill="#17becf"/>
<circle cx="462.5" cy="87.7" r="1.85" fill="#8c564b"/>
<circle cx="460.2" cy="89.5" r="1.85" fill="#f7b6d2"/>
<circle cx="463.7" cy="90.9" r="1.85" fill="#9edae5"/>
<circle cx="466.5" cy="88.3" r="1.85" fill="#dbdb8d"/>
<circle cx="471.2" cy="85.1" r="1.85" fill="#1f77b4"/>
<circle cx="470.7" cy="92.5" r="1.85" fill="#8c564b"/>
<circle cx="481.2" cy="88.0" r="1.85" fill="#98df8a"/>
<circle cx="484.0" cy="92.5" r="1.85" fill="#98df8a"/>
<circle cx="493.3" cy="80.2" r="1.85" fill="#98df8a"/>
<circle cx="496.7" cy="79.6" r="1.85" fill="#aec7e8"/>
<circle cx="500.1" cy="78.7" r="1.85" fill="#e377c2"/>
<circle cx="501.1" cy="80.9" r="1.85" fill="#e377c2"/>
<circle cx="503.2" cy="81.8" r="1.85" fill="#9467bd"/>
<circle cx="508.1" cy="85.2" r="1.85" fill="#17becf"/>
<circle cx="507.9" cy="89.0" r="1.85" fill="#98df8a"/>
<circle cx="513.5" cy="85.1" r="1.85" fill="#e377c2"/>
<circle cx="515.6" cy="83.7" r="1.85" fill="#1f77b4"/>
<circle cx="500.1" cy="90.2" r="1.85" fill="#17becf"/>
<circle cx="502.5" cy="90.5" r="1.85" fill="#f7b6d2"/>
<circle cx="509.8" cy="91.4" r="1.85" fill="#c49c94"/>
<circle cx="514.6" cy="90.2" r="1.85" fill="#9edae5"/>
<circle cx="518.2" cy="55.6" r="1.85" fill="#c49c94"/>
<circle cx="519.2" cy="57.0" r="1.85" fill="#aec7e8"/>
<circle cx="528.0" cy="68.4" r="1.85" fill="#1f77b4"/>
<circle cx="526.6" cy="71.5" r="1.85" fill="#ff7f0e"/>
<circle cx="519.4" cy="71.0" r="1.85" fill="#c49c94"/>
<circle cx="517.8" cy="74.3" r="1.85" fill="#c5b0d5"/>
<circle cx="520.6" cy="78.5" r="1.85" fill="#9edae5"/>
<circle cx="526.9" cy="78.3" r="1.85" fill="#d62728"/>
<circle cx="526.9" cy="83.0" r="1.85" fill="#7f7f7f"/>
<circle cx="536.4" cy="75.2" r="1.85" fill="#c49c94"/>
<circle cx="543.0" cy="77.1" r="1.85" fill="#e377c2"/>
<circle cx="537.2" cy="79.0" r="1.85" fill="#17becf"/>
<circle cx="541.1" cy="79.4" r="1.85" fill="#c49c94"/>
<circle cx="540.2" cy="81.8" r="1.85" fill="#c49c94"/>
<circle cx="540.7" cy="85.2" r="1.85" fill="#c49c94"/>
<circle cx="534.6" cy="86.5" r="1.85" fill="#9edae5"/>
<circle cx="540.7" cy="90.7" r="1.85" fill="#98df8a"/>
<circle cx="545.8" cy="92.3" r="1.85" fill="#c49c94"/>
<circle cx="553.3" cy="93.0" r="1.85" fill="#c49c94"/>
<circle cx="521.7" cy="90.2" r="1.85" fill="#ffbb78"/>
<circle cx="526.9" cy="92.1" r="1.85" fill="#c7c7c7"/>
<circle cx="425.4" cy="96.9" r="1.85" fill="#aec7e8"/>
<circle cx="427.3" cy="96.9" r="1.85" fill="#c49c94"/>
<circle cx="446.7" cy="96.6" r="1.85" fill="#dbdb8d"/>
<circle cx="450.6" cy="99.5" r="1.85" fill="#c5b0d5"/>
<circle cx="418.1" cy="101.6" r="1.85" fill="#aec7e8"/>
<circle cx="420.5" cy="103.5" r="1.85" fill="#1f77b4"/>
<circle cx="428.4" cy="103.1" r="1.85" fill="#d62728"/>
<circle cx="432.4" cy="100.9" r="1.85" fill="#ff9896"/>
<circle cx="438.9" cy="100.5" r="1.85" fill="#1f77b4"/>
<circle cx="445.5" cy="100.0" r="1.85" fill="#9467bd"/>
<circle cx="431.9" cy="107.8" r="1.85" fill="#c49c94"/>
<circle cx="446.4" cy="104.4" r="1.85" fill="#9edae5"/>
<circle cx="444.1" cy="106.6" r="1.85" fill="#dbdb8d"/>
<circle cx="446.4" cy="108.1" r="1.85" fill="#dbdb8d"/>
<circle cx="449.7" cy="110.6" r="1.85" fill="#d62728"/>
<circle cx="441.5" cy="110.3" r="1.85" fill="#c5b0d5"/>
<circle cx="443.6" cy="112.4" r="1.85" fill="#1f77b4"/>
<circle cx="448.9" cy="113.6" r="1.85" fill="#17becf"/>
<circle cx="451.4" cy="117.8" r="1.85" fill="#1f77b4"/>
<circle cx="438.0" cy="115.9" r="1.85" fill="#e377c2"/>
<circle cx="445.5" cy="142.1" r="1.85" fill="#e377c2"/>
<circle cx="470.7" cy="93.9" r="1.85" fill="#8c564b"/>
<circle cx="468.8" cy="98.6" r="1.85" fill="#7f7f7f"/>
<circle cx="474.0" cy="100.3" r="1.85" fill="#8c564b"/>
<circle cx="461.8" cy="100.9" r="1.85" fill="#e377c2"/>
<circle cx="455.9" cy="102.3" r="1.85" fill="#f7b6d2"/>
<circle cx="458.1" cy="103.1" r="1.85" fill="#9edae5"/>
<circle cx="453.7" cy="105.6" r="1.85" fill="#9467bd"/>
<circle cx="460.2" cy="105.9" r="1.85" fill="#c5b0d5"/>
<circle cx="470.2" cy="102.3" r="1.85" fill="#f7b6d2"/>
<circle cx="474.2" cy="106.6" r="1.85" fill="#bcbd22"/>
<circle cx="472.7" cy="107.5" r="1.85" fill="#f7b6d2"/>
<circle cx="483.8" cy="94.4" r="1.85" fill="#98df8a"/>
<circle cx="485.2" cy="97.2" r="1.85" fill="#98df8a"/>
<circle cx="480.8" cy="100.3" r="1.85" fill="#98df8a"/>
<circle cx="484.2" cy="101.9" r="1.85" fill="#98df8a"/>
<circle cx="488.4" cy="104.0" r="1.85" fill="#98df8a"/>
<circle cx="490.3" cy="102.3" r="1.85" fill="#98df8a"/>
<circle cx="492.2" cy="100.5" r="1.85" fill="#98df8a"/>
<circle cx="494.2" cy="102.3" r="1.85" fill="#98df8a"/>
<circle cx="479.9" cy="108.0" r="1.85" fill="#98df8a"/>
<circle cx="482.8" cy="109.6" r="1.85" fill="#98df8a"/>
<circle cx="490.1" cy="108.7" r="1.85" fill="#98df8a"/>
<circle cx="491.3" cy="110.9" r="1.85" fill="#98df8a"/>
<circle cx="497.3" cy="108.4" r="1.85" fill="#98df8a"/>
<circle cx="507.0" cy="95.1" r="1.85" fill="#98df8a"/>
<circle cx="504.8" cy="101.6" r="1.85" fill="#98df8a"/>
<circle cx="513.9" cy="105.0" r="1.85" fill="#ff9896"/>
<circle cx="515.6" cy="103.1" r="1.85" fill="#9edae5"/>
<circle cx="454.8" cy="116.8" r="1.85" fill="#9edae5"/>
<circle cx="458.7" cy="117.3" r="1.85" fill="#d62728"/>
<circle cx="468.6" cy="116.2" r="1.85" fill="#dbdb8d"/>
<circle cx="470.7" cy="118.2" r="1.85" fill="#aec7e8"/>
<circle cx="465.8" cy="119.0" r="1.85" fill="#c5b0d5"/>
<circle cx="467.1" cy="119.9" r="1.85" fill="#c5b0d5"/>
<circle cx="470.2" cy="123.1" r="1.85" fill="#d62728"/>
<circle cx="455.7" cy="123.4" r="1.85" fill="#1f77b4"/>
<circle cx="459.3" cy="124.6" r="1.85" fill="#1f77b4"/>
<circle cx="456.9" cy="126.8" r="1.85" fill="#17becf"/>
<circle cx="494.8" cy="117.5" r="1.85" fill="#9edae5"/>
<circle cx="494.2" cy="122.9" r="1.85" fill="#c5b0d5"/>
<circle cx="495.2" cy="127.1" r="1.85" fill="#dbdb8d"/>
<circle cx="497.6" cy="128.3" r="1.85" fill="#dbdb8d"/>
<circle cx="503.9" cy="123.7" r="1.85" fill="#17becf"/>
<circle cx="509.0" cy="125.2" r="1.85" fill="#d62728"/>
<circle cx="511.1" cy="126.5" r="1.85" fill="#d62728"/>
<circle cx="511.8" cy="120.6" r="1.85" fill="#9467bd"/>
<circle cx="512.9" cy="119.6" r="1.85" fill="#1f77b4"/>
<circle cx="506.2" cy="128.7" r="1.85" fill="#9467bd"/>
<circle cx="502.3" cy="129.6" r="1.85" fill="#f7b6d2"/>
<circle cx="494.8" cy="131.5" r="1.85" fill="#e377c2"/>
<circle cx="498.0" cy="133.4" r="1.85" fill="#e377c2"/>
<circle cx="496.7" cy="136.9" r="1.85" fill="#dbdb8d"/>
<circle cx="477.7" cy="131.3" r="1.85" fill="#9467bd"/>
<circle cx="475.8" cy="135.2" r="1.85" fill="#ff9896"/>
<circle cx="473.7" cy="137.9" r="1.85" fill="#ff7f0e"/>
<circle cx="469.6" cy="138.8" r="1.85" fill="#c5b0d5"/>
<circle cx="466.5" cy="142.1" r="1.85" fill="#c49c94"/>
<circle cx="484.7" cy="138.0" r="1.85" fill="#d62728"/>
<circle cx="489.9" cy="136.2" r="1.85" fill="#ff9896"/>
<circle cx="498.3" cy="140.9" r="1.85" fill="#ff9896"/>
<circle cx="512.7" cy="134.6" r="1.85" fill="#c7c7c7"/>
<circle cx="511.1" cy="136.2" r="1.85" fill="#c49c94"/>
<circle cx="512.9" cy="139.5" r="1.85" fill="#8c564b"/>
<circle cx="522.7" cy="93.0" r="1.85" fill="#ff9896"/>
<circle cx="527.0" cy="93.5" r="1.85" fill="#c7c7c7"/>
<circle cx="530.2" cy="94.1" r="1.85" fill="#f7b6d2"/>
<circle cx="517.7" cy="97.2" r="1.85" fill="#c5b0d5"/>
<circle cx="523.7" cy="98.4" r="1.85" fill="#c7c7c7"/>
<circle cx="527.0" cy="99.1" r="1.85" fill="#c7c7c7"/>
<circle cx="530.8" cy="100.3" r="1.85" fill="#2ca02c"/>
<circle cx="536.6" cy="100.5" r="1.85" fill="#2ca02c"/>
<circle cx="540.1" cy="97.5" r="1.85" fill="#c49c94"/>
<circle cx="516.5" cy="104.0" r="1.85" fill="#9edae5"/>
<circle cx="527.4" cy="106.3" r="1.85" fill="#98df8a"/>
<circle cx="526.3" cy="117.3" r="1.85" fill="#f7b6d2"/>
<circle cx="552.0" cy="95.1" r="1.85" fill="#c49c94"/>
<circle cx="548.7" cy="98.4" r="1.85" fill="#c49c94"/>
<circle cx="561.8" cy="95.6" r="1.85" fill="#c49c94"/>
<circle cx="564.6" cy="99.5" r="1.85" fill="#c49c94"/>
<circle cx="563.2" cy="102.5" r="1.85" fill="#c49c94"/>
<circle cx="555.4" cy="102.3" r="1.85" fill="#7f7f7f"/>
<circle cx="549.2" cy="107.2" r="1.85" fill="#c49c94"/>
<circle cx="553.9" cy="109.4" r="1.85" fill="#9edae5"/>
<circle cx="557.6" cy="108.4" r="1.85" fill="#dbdb8d"/>
<circle cx="563.2" cy="106.6" r="1.85" fill="#e377c2"/>
<circle cx="546.1" cy="110.9" r="1.85" fill="#98df8a"/>
<circle cx="552.0" cy="113.6" r="1.85" fill="#2ca02c"/>
<circle cx="557.3" cy="113.1" r="1.85" fill="#2ca02c"/>
<circle cx="565.3" cy="113.7" r="1.85" fill="#c5b0d5"/>
<circle cx="567.2" cy="113.7" r="1.85" fill="#e377c2"/>
<circle cx="560.7" cy="117.3" r="1.85" fill="#dbdb8d"/>
<circle cx="552.0" cy="121.0" r="1.85" fill="#c7c7c7"/>
<circle cx="537.7" cy="125.2" r="1.85" fill="#17becf"/>
<circle cx="536.4" cy="126.2" r="1.85" fill="#c5b0d5"/>
<circle cx="533.0" cy="130.2" r="1.85" fill="#9edae5"/>
<circle cx="554.1" cy="130.6" r="1.85" fill="#9467bd"/>
<circle cx="534.5" cy="134.3" r="1.85" fill="#c5b0d5"/>
<circle cx="527.2" cy="134.1" r="1.85" fill="#f7b6d2"/>
<circle cx="526.3" cy="136.5" r="1.85" fill="#bcbd22"/>
<circle cx="539.8" cy="134.9" r="1.85" fill="#bcbd22"/>
<circle cx="541.2" cy="136.2" r="1.85" fill="#7f7f7f"/>
<circle cx="536.7" cy="137.4" r="1.85" fill="#7f7f7f"/>
<circle cx="529.3" cy="139.9" r="1.85" fill="#8c564b"/>
<circle cx="531.0" cy="142.1" r="1.85" fill="#8c564b"/>
<circle cx="534.5" cy="142.3" r="1.85" fill="#ff9896"/>
<circle cx="566.0" cy="139.3" r="1.85" fill="#9467bd"/>
<circle cx="570.7" cy="138.6" r="1.85" fill="#9467bd"/>
<circle cx="575.1" cy="141.6" r="1.85" fill="#9467bd"/>
<circle cx="595.7" cy="110.9" r="1.85" fill="#ff7f0e"/>
<circle cx="595.1" cy="112.4" r="1.85" fill="#ff7f0e"/>
<circle cx="594.8" cy="116.2" r="1.85" fill="#ff7f0e"/>
<circle cx="599.4" cy="114.5" r="1.85" fill="#ff7f0e"/>
<circle cx="600.4" cy="117.3" r="1.85" fill="#ff7f0e"/>
<circle cx="591.0" cy="121.5" r="1.85" fill="#ff7f0e"/>
<circle cx="603.6" cy="113.7" r="1.85" fill="#2ca02c"/>
<circle cx="593.1" cy="142.5" r="1.85" fill="#c49c94"/>
<circle cx="464.6" cy="145.1" r="1.85" fill="#aec7e8"/>
<circle cx="471.2" cy="144.9" r="1.85" fill="#ff7f0e"/>
<circle cx="474.9" cy="144.1" r="1.85" fill="#ff9896"/>
<circle cx="467.7" cy="147.5" r="1.85" fill="#ff7f0e"/>
<circle cx="473.3" cy="149.5" r="1.85" fill="#d62728"/>
<circle cx="474.6" cy="152.8" r="1.85" fill="#c49c94"/>
<circle cx="454.1" cy="148.8" r="1.85" fill="#f7b6d2"/>
<circle cx="458.1" cy="148.8" r="1.85" fill="#dbdb8d"/>
<circle cx="456.7" cy="153.1" r="1.85" fill="#ff7f0e"/>
<circle cx="452.5" cy="154.2" r="1.85" fill="#ff9896"/>
<circle cx="454.6" cy="156.8" r="1.85" fill="#d62728"/>
<circle cx="453.4" cy="161.2" r="1.85" fill="#ff7f0e"/>
<circle cx="482.4" cy="149.5" r="1.85" fill="#17becf"/>
<circle cx="483.3" cy="148.1" r="1.85" fill="#ff7f0e"/>
<circle cx="492.0" cy="147.9" r="1.85" fill="#d62728"/>
<circle cx="491.7" cy="150.0" r="1.85" fill="#ff9896"/>
<circle cx="484.0" cy="155.9" r="1.85" fill="#ff7f0e"/>
<circle cx="489.6" cy="155.6" r="1.85" fill="#ff7f0e"/>
<circle cx="496.9" cy="154.7" r="1.85" fill="#ff9896"/>
<circle cx="495.9" cy="158.9" r="1.85" fill="#ff9896"/>
<circle cx="500.1" cy="157.2" r="1.85" fill="#8c564b"/>
<circle cx="505.3" cy="146.9" r="1.85" fill="#9edae5"/>
<circle cx="503.4" cy="150.0" r="1.85" fill="#ff9896"/>
<circle cx="507.3" cy="150.0" r="1.85" fill="#e377c2"/>
<circle cx="509.2" cy="152.2" r="1.85" fill="#e377c2"/>
<circle cx="509.0" cy="144.4" r="1.85" fill="#e377c2"/>
<circle cx="510.4" cy="146.6" r="1.85" fill="#dbdb8d"/>
<circle cx="514.8" cy="148.1" r="1.85" fill="#dbdb8d"/>
<circle cx="514.6" cy="151.6" r="1.85" fill="#ffbb78"/>
<circle cx="515.6" cy="156.3" r="1.85" fill="#9467bd"/>
<circle cx="505.5" cy="160.8" r="1.85" fill="#ffbb78"/>
<circle cx="513.5" cy="162.4" r="1.85" fill="#7f7f7f"/>
<circle cx="505.5" cy="167.8" r="1.85" fill="#7f7f7f"/>
<circle cx="504.1" cy="169.6" r="1.85" fill="#ffbb78"/>
<circle cx="492.9" cy="171.2" r="1.85" fill="#bcbd22"/>
<circle cx="496.1" cy="173.8" r="1.85" fill="#2ca02c"/>
<circle cx="514.8" cy="177.1" r="1.85" fill="#bcbd22"/>
<circle cx="492.7" cy="178.3" r="1.85" fill="#7f7f7f"/>
<circle cx="489.9" cy="179.9" r="1.85" fill="#ffbb78"/>
<circle cx="497.6" cy="182.3" r="1.85" fill="#bcbd22"/>
<circle cx="500.6" cy="181.1" r="1.85" fill="#7f7f7f"/>
<circle cx="499.5" cy="184.3" r="1.85" fill="#7f7f7f"/>
<circle cx="495.2" cy="185.5" r="1.85" fill="#ffbb78"/>
<circle cx="503.9" cy="186.0" r="1.85" fill="#2ca02c"/>
<circle cx="506.7" cy="185.5" r="1.85" fill="#bcbd22"/>
<circle cx="509.2" cy="184.6" r="1.85" fill="#2ca02c"/>
<circle cx="509.8" cy="187.7" r="1.85" fill="#8c564b"/>
<circle cx="514.8" cy="186.7" r="1.85" fill="#bcbd22"/>
<circle cx="500.8" cy="190.5" r="1.85" fill="#8c564b"/>
<circle cx="506.0" cy="190.2" r="1.85" fill="#2ca02c"/>
<circle cx="510.7" cy="191.4" r="1.85" fill="#8c564b"/>
<circle cx="491.7" cy="192.7" r="1.85" fill="#7f7f7f"/>
<circle cx="491.7" cy="194.1" r="1.85" fill="#7f7f7f"/>
<circle cx="492.7" cy="197.2" r="1.85" fill="#c7c7c7"/>
<circle cx="483.6" cy="198.1" r="1.85" fill="#7f7f7f"/>
<circle cx="506.4" cy="194.1" r="1.85" fill="#2ca02c"/>
<circle cx="490.1" cy="201.2" r="1.85" fill="#2ca02c"/>
<circle cx="494.5" cy="201.2" r="1.85" fill="#bcbd22"/>
<circle cx="494.1" cy="205.3" r="1.85" fill="#2ca02c"/>
<circle cx="498.0" cy="205.9" r="1.85" fill="#bcbd22"/>
<circle cx="501.3" cy="203.7" r="1.85" fill="#8c564b"/>
<circle cx="497.0" cy="209.6" r="1.85" fill="#bcbd22"/>
<circle cx="502.0" cy="208.0" r="1.85" fill="#ffbb78"/>
<circle cx="497.3" cy="211.9" r="1.85" fill="#ffbb78"/>
<circle cx="506.4" cy="208.4" r="1.85" fill="#ffbb78"/>
<circle cx="509.5" cy="207.0" r="1.85" fill="#7f7f7f"/>
<circle cx="510.9" cy="203.7" r="1.85" fill="#bcbd22"/>
<circle cx="512.0" cy="210.6" r="1.85" fill="#ff9896"/>
<circle cx="531.0" cy="143.5" r="1.85" fill="#8c564b"/>
<circle cx="516.5" cy="148.4" r="1.85" fill="#dbdb8d"/>
<circle cx="521.1" cy="151.2" r="1.85" fill="#dbdb8d"/>
<circle cx="525.5" cy="150.9" r="1.85" fill="#c5b0d5"/>
<circle cx="542.9" cy="149.1" r="1.85" fill="#98df8a"/>
<circle cx="556.9" cy="150.9" r="1.85" fill="#c5b0d5"/>
<circle cx="550.1" cy="154.0" r="1.85" fill="#c5b0d5"/>
<circle cx="554.8" cy="155.1" r="1.85" fill="#8c564b"/>
<circle cx="564.1" cy="152.5" r="1.85" fill="#d62728"/>
<circle cx="567.2" cy="153.7" r="1.85" fill="#9467bd"/>
<circle cx="570.0" cy="152.5" r="1.85" fill="#7f7f7f"/>
<circle cx="573.8" cy="149.4" r="1.85" fill="#f7b6d2"/>
<circle cx="575.1" cy="143.0" r="1.85" fill="#9467bd"/>
<circle cx="578.4" cy="157.8" r="1.85" fill="#9467bd"/>
<circle cx="575.6" cy="159.8" r="1.85" fill="#ffbb78"/>
<circle cx="517.9" cy="155.9" r="1.85" fill="#ffbb78"/>
<circle cx="519.6" cy="159.1" r="1.85" fill="#2ca02c"/>
<circle cx="528.9" cy="158.7" r="1.85" fill="#17becf"/>
<circle cx="533.0" cy="159.8" r="1.85" fill="#2ca02c"/>
<circle cx="537.0" cy="155.0" r="1.85" fill="#ffbb78"/>
<circle cx="539.6" cy="157.8" r="1.85" fill="#2ca02c"/>
<circle cx="543.3" cy="160.3" r="1.85" fill="#2ca02c"/>
<circle cx="550.6" cy="158.4" r="1.85" fill="#9467bd"/>
<circle cx="553.4" cy="158.0" r="1.85" fill="#ffbb78"/>
<circle cx="518.1" cy="162.8" r="1.85" fill="#c7c7c7"/>
<circle cx="529.1" cy="164.0" r="1.85" fill="#bcbd22"/>
<circle cx="535.8" cy="164.5" r="1.85" fill="#c7c7c7"/>
<circle cx="543.3" cy="164.5" r="1.85" fill="#7f7f7f"/>
<circle cx="547.8" cy="163.4" r="1.85" fill="#8c564b"/>
<circle cx="549.2" cy="164.3" r="1.85" fill="#9edae5"/>
<circle cx="553.4" cy="162.4" r="1.85" fill="#8c564b"/>
<circle cx="556.0" cy="161.9" r="1.85" fill="#9467bd"/>
<circle cx="560.9" cy="162.4" r="1.85" fill="#8c564b"/>
<circle cx="566.0" cy="160.8" r="1.85" fill="#c49c94"/>
<circle cx="519.3" cy="167.5" r="1.85" fill="#c7c7c7"/>
<circle cx="519.0" cy="169.9" r="1.85" fill="#8c564b"/>
<circle cx="527.7" cy="169.4" r="1.85" fill="#8c564b"/>
<circle cx="544.5" cy="171.2" r="1.85" fill="#2ca02c"/>
<circle cx="549.5" cy="170.3" r="1.85" fill="#bcbd22"/>
<circle cx="554.3" cy="169.9" r="1.85" fill="#7f7f7f"/>
<circle cx="558.2" cy="171.5" r="1.85" fill="#7f7f7f"/>
<circle cx="558.2" cy="174.8" r="1.85" fill="#c7c7c7"/>
<circle cx="567.9" cy="168.4" r="1.85" fill="#17becf"/>
<circle cx="568.1" cy="170.9" r="1.85" fill="#c5b0d5"/>
<circle cx="571.0" cy="171.0" r="1.85" fill="#e377c2"/>
<circle cx="574.9" cy="172.0" r="1.85" fill="#98df8a"/>
<circle cx="516.5" cy="177.1" r="1.85" fill="#bcbd22"/>
<circle cx="538.9" cy="174.0" r="1.85" fill="#9467bd"/>
<circle cx="528.3" cy="175.5" r="1.85" fill="#8c564b"/>
<circle cx="532.1" cy="177.4" r="1.85" fill="#ffbb78"/>
<circle cx="530.2" cy="178.3" r="1.85" fill="#c7c7c7"/>
<circle cx="527.4" cy="180.2" r="1.85" fill="#bcbd22"/>
<circle cx="530.0" cy="181.8" r="1.85" fill="#ffbb78"/>
<circle cx="545.7" cy="176.8" r="1.85" fill="#2ca02c"/>
<circle cx="549.8" cy="178.3" r="1.85" fill="#ffbb78"/>
<circle cx="549.5" cy="180.6" r="1.85" fill="#f7b6d2"/>
<circle cx="553.6" cy="181.5" r="1.85" fill="#c5b0d5"/>
<circle cx="564.6" cy="178.7" r="1.85" fill="#ffbb78"/>
<circle cx="568.1" cy="181.8" r="1.85" fill="#ffbb78"/>
<circle cx="571.6" cy="182.3" r="1.85" fill="#7f7f7f"/>
<circle cx="520.9" cy="184.9" r="1.85" fill="#bcbd22"/>
<circle cx="523.7" cy="187.9" r="1.85" fill="#8c564b"/>
<circle cx="519.6" cy="190.2" r="1.85" fill="#bcbd22"/>
<circle cx="516.5" cy="186.7" r="1.85" fill="#bcbd22"/>
<circle cx="533.6" cy="186.5" r="1.85" fill="#2ca02c"/>
<circle cx="540.3" cy="182.4" r="1.85" fill="#8c564b"/>
<circle cx="542.2" cy="185.1" r="1.85" fill="#9467bd"/>
<circle cx="548.2" cy="185.1" r="1.85" fill="#ffbb78"/>
<circle cx="551.5" cy="185.8" r="1.85" fill="#dbdb8d"/>
<circle cx="550.8" cy="188.0" r="1.85" fill="#7f7f7f"/>
<circle cx="547.0" cy="188.8" r="1.85" fill="#bcbd22"/>
<circle cx="566.5" cy="186.2" r="1.85" fill="#1f77b4"/>
<circle cx="571.3" cy="189.0" r="1.85" fill="#1f77b4"/>
<circle cx="579.6" cy="191.4" r="1.85" fill="#ffbb78"/>
<circle cx="522.5" cy="192.5" r="1.85" fill="#ffbb78"/>
<circle cx="531.4" cy="192.5" r="1.85" fill="#8c564b"/>
<circle cx="585.8" cy="145.1" r="1.85" fill="#f7b6d2"/>
<circle cx="589.2" cy="145.8" r="1.85" fill="#9467bd"/>
<circle cx="587.0" cy="148.1" r="1.85" fill="#f7b6d2"/>
<circle cx="582.6" cy="157.0" r="1.85" fill="#98df8a"/>
<circle cx="591.7" cy="158.4" r="1.85" fill="#bcbd22"/>
<circle cx="593.6" cy="159.6" r="1.85" fill="#e377c2"/>
<circle cx="597.3" cy="160.0" r="1.85" fill="#7f7f7f"/>
<circle cx="599.4" cy="158.1" r="1.85" fill="#dbdb8d"/>
<circle cx="587.9" cy="160.9" r="1.85" fill="#9edae5"/>
<circle cx="588.2" cy="163.1" r="1.85" fill="#c5b0d5"/>
<circle cx="607.3" cy="155.1" r="1.85" fill="#17becf"/>
<circle cx="613.8" cy="153.5" r="1.85" fill="#9edae5"/>
<circle cx="615.5" cy="155.9" r="1.85" fill="#c49c94"/>
<circle cx="618.1" cy="155.9" r="1.85" fill="#c49c94"/>
<circle cx="607.3" cy="163.6" r="1.85" fill="#17becf"/>
<circle cx="615.3" cy="166.4" r="1.85" fill="#9467bd"/>
<circle cx="612.2" cy="169.4" r="1.85" fill="#17becf"/>
<circle cx="617.4" cy="171.0" r="1.85" fill="#c49c94"/>
<circle cx="591.7" cy="171.8" r="1.85" fill="#f7b6d2"/>
<circle cx="603.8" cy="171.5" r="1.85" fill="#bcbd22"/>
<circle cx="607.1" cy="171.0" r="1.85" fill="#c7c7c7"/>
<circle cx="606.0" cy="174.3" r="1.85" fill="#bcbd22"/>
<circle cx="608.5" cy="176.2" r="1.85" fill="#dbdb8d"/>
<circle cx="615.0" cy="176.8" r="1.85" fill="#c7c7c7"/>
<circle cx="617.9" cy="177.1" r="1.85" fill="#8c564b"/>
<circle cx="625.6" cy="171.8" r="1.85" fill="#f7b6d2"/>
<circle cx="629.3" cy="173.1" r="1.85" fill="#c49c94"/>
<circle cx="623.2" cy="177.1" r="1.85" fill="#dbdb8d"/>
<circle cx="623.0" cy="178.3" r="1.85" fill="#ff7f0e"/>
<circle cx="632.3" cy="179.0" r="1.85" fill="#2ca02c"/>
<circle cx="586.7" cy="178.0" r="1.85" fill="#f7b6d2"/>
<circle cx="589.5" cy="178.3" r="1.85" fill="#ff9896"/>
<circle cx="593.3" cy="179.3" r="1.85" fill="#c5b0d5"/>
<circle cx="592.0" cy="181.1" r="1.85" fill="#e377c2"/>
<circle cx="609.9" cy="180.2" r="1.85" fill="#dbdb8d"/>
<circle cx="613.5" cy="183.0" r="1.85" fill="#2ca02c"/>
<circle cx="616.0" cy="182.1" r="1.85" fill="#2ca02c"/>
<circle cx="601.0" cy="185.5" r="1.85" fill="#2ca02c"/>
<circle cx="602.9" cy="184.1" r="1.85" fill="#2ca02c"/>
<circle cx="606.4" cy="185.2" r="1.85" fill="#d62728"/>
<circle cx="614.6" cy="186.2" r="1.85" fill="#9edae5"/>
<circle cx="618.8" cy="186.0" r="1.85" fill="#9edae5"/>
<circle cx="623.2" cy="183.4" r="1.85" fill="#1f77b4"/>
<circle cx="625.8" cy="182.1" r="1.85" fill="#e377c2"/>
<circle cx="629.5" cy="182.4" r="1.85" fill="#9edae5"/>
<circle cx="627.2" cy="187.9" r="1.85" fill="#c5b0d5"/>
<circle cx="623.0" cy="188.3" r="1.85" fill="#ff7f0e"/>
<circle cx="590.7" cy="186.9" r="1.85" fill="#9edae5"/>
<circle cx="606.2" cy="189.7" r="1.85" fill="#9edae5"/>
<circle cx="605.2" cy="191.6" r="1.85" fill="#17becf"/>
<circle cx="597.3" cy="191.6" r="1.85" fill="#9edae5"/>
<circle cx="619.1" cy="191.6" r="1.85" fill="#9edae5"/>
<circle cx="629.5" cy="191.4" r="1.85" fill="#ff9896"/>
<circle cx="580.9" cy="191.4" r="1.85" fill="#ffbb78"/>
<circle cx="586.5" cy="192.5" r="1.85" fill="#f7b6d2"/>
<circle cx="519.3" cy="194.1" r="1.85" fill="#c7c7c7"/>
<circle cx="522.7" cy="194.1" r="1.85" fill="#ffbb78"/>
<circle cx="531.0" cy="194.1" r="1.85" fill="#8c564b"/>
<circle cx="533.8" cy="194.7" r="1.85" fill="#bcbd22"/>
<circle cx="530.5" cy="199.5" r="1.85" fill="#ffbb78"/>
<circle cx="575.1" cy="197.5" r="1.85" fill="#d62728"/>
<circle cx="579.1" cy="197.5" r="1.85" fill="#c7c7c7"/>
<circle cx="569.3" cy="205.1" r="1.85" fill="#1f77b4"/>
<circle cx="566.9" cy="206.8" r="1.85" fill="#9467bd"/>
<circle cx="576.3" cy="212.6" r="1.85" fill="#1f77b4"/>
<circle cx="577.2" cy="215.4" r="1.85" fill="#1f77b4"/>
<circle cx="555.3" cy="215.6" r="1.85" fill="#d62728"/>
<circle cx="554.8" cy="216.6" r="1.85" fill="#c49c94"/>
<circle cx="562.0" cy="221.5" r="1.85" fill="#c49c94"/>
<circle cx="582.3" cy="196.3" r="1.85" fill="#7f7f7f"/>
<circle cx="586.4" cy="194.7" r="1.85" fill="#e377c2"/>
<circle cx="589.3" cy="194.9" r="1.85" fill="#ff9896"/>
<circle cx="595.1" cy="194.9" r="1.85" fill="#9467bd"/>
<circle cx="601.5" cy="195.6" r="1.85" fill="#9467bd"/>
<circle cx="609.0" cy="195.3" r="1.85" fill="#c7c7c7"/>
<circle cx="605.4" cy="193.0" r="1.85" fill="#17becf"/>
<circle cx="619.1" cy="193.0" r="1.85" fill="#9edae5"/>
<circle cx="623.5" cy="197.7" r="1.85" fill="#e377c2"/>
<circle cx="630.0" cy="196.7" r="1.85" fill="#1f77b4"/>
<circle cx="585.8" cy="202.8" r="1.85" fill="#dbdb8d"/>
<circle cx="595.4" cy="201.9" r="1.85" fill="#ff7f0e"/>
<circle cx="592.0" cy="205.0" r="1.85" fill="#dbdb8d"/>
<circle cx="588.9" cy="206.8" r="1.85" fill="#c7c7c7"/>
<circle cx="594.0" cy="207.2" r="1.85" fill="#ff9896"/>
<circle cx="594.0" cy="210.3" r="1.85" fill="#ffbb78"/>
<circle cx="588.4" cy="211.9" r="1.85" fill="#ff7f0e"/>
<circle cx="590.5" cy="212.6" r="1.85" fill="#ff7f0e"/>
<circle cx="607.1" cy="206.8" r="1.85" fill="#f7b6d2"/>
<circle cx="610.8" cy="205.0" r="1.85" fill="#ff7f0e"/>
<circle cx="617.6" cy="209.1" r="1.85" fill="#e377c2"/>
<circle cx="605.4" cy="212.2" r="1.85" fill="#f7b6d2"/>
<circle cx="614.1" cy="212.6" r="1.85" fill="#9edae5"/>
<circle cx="581.4" cy="219.0" r="1.85" fill="#c5b0d5"/>
<circle cx="590.3" cy="218.2" r="1.85" fill="#c5b0d5"/>
<circle cx="595.4" cy="219.0" r="1.85" fill="#f7b6d2"/>
<circle cx="599.4" cy="217.8" r="1.85" fill="#ff7f0e"/>
<circle cx="602.2" cy="218.0" r="1.85" fill="#c7c7c7"/>
<circle cx="585.4" cy="221.8" r="1.85" fill="#ff9896"/>
<circle cx="585.8" cy="223.7" r="1.85" fill="#dbdb8d"/>
<circle cx="605.0" cy="222.0" r="1.85" fill="#7f7f7f"/>
<circle cx="610.4" cy="221.0" r="1.85" fill="#8c564b"/>
<circle cx="614.6" cy="217.8" r="1.85" fill="#c7c7c7"/>
<circle cx="616.4" cy="219.6" r="1.85" fill="#7f7f7f"/>
<circle cx="618.8" cy="223.4" r="1.85" fill="#ffbb78"/>
<circle cx="619.3" cy="227.4" r="1.85" fill="#bcbd22"/>
<circle cx="628.1" cy="219.6" r="1.85" fill="#dbdb8d"/>
<circle cx="595.1" cy="225.0" r="1.85" fill="#ff9896"/>
<circle cx="598.7" cy="223.1" r="1.85" fill="#f7b6d2"/>
<circle cx="602.2" cy="226.2" r="1.85" fill="#9467bd"/>
<circle cx="591.7" cy="227.4" r="1.85" fill="#ff7f0e"/>
<circle cx="593.6" cy="229.9" r="1.85" fill="#e377c2"/>
<circle cx="597.9" cy="229.4" r="1.85" fill="#ff9896"/>
<circle cx="594.8" cy="233.4" r="1.85" fill="#8c564b"/>
<circle cx="445.0" cy="143.4" r="1.85" fill="#e377c2"/>
<circle cx="447.4" cy="147.7" r="1.85" fill="#17becf"/>
<circle cx="449.3" cy="150.9" r="1.85" fill="#17becf"/>
<circle cx="449.3" cy="156.5" r="1.85" fill="#dbdb8d"/>
</g>
<g>
<circle cx="58.8" cy="475.4" r="1.85" fill="#aec7e8"/>
<circle cx="62.7" cy="471.1" r="1.85" fill="#aec7e8"/>
<circle cx="59.0" cy="472.6" r="1.85" fill="#aec7e8"/>
<circle cx="66.4" cy="474.7" r="1.85" fill="#aec7e8"/>
<circle cx="62.7" cy="478.3" r="1.85" fill="#aec7e8"/>
<circle cx="64.0" cy="475.8" r="1.85" fill="#aec7e8"/>
<circle cx="60.3" cy="477.7" r="1.85" fill="#aec7e8"/>
<circle cx="62.7" cy="473.2" r="1.85" fill="#aec7e8"/>
<circle cx="60.5" cy="471.9" r="1.85" fill="#aec7e8"/>
<circle cx="61.5" cy="479.5" r="1.85" fill="#aec7e8"/>
<circle cx="59.5" cy="479.1" r="1.85" fill="#aec7e8"/>
<circle cx="61.0" cy="475.2" r="1.85" fill="#aec7e8"/>
<circle cx="145.2" cy="427.9" r="1.85" fill="#f7b6d2"/>
<circle cx="149.6" cy="427.1" r="1.85" fill="#f7b6d2"/>
<circle cx="142.0" cy="429.0" r="1.85" fill="#f7b6d2"/>
<circle cx="139.1" cy="425.2" r="1.85" fill="#f7b6d2"/>
<circle cx="143.7" cy="422.6" r="1.85" fill="#f7b6d2"/>
<circle cx="135.8" cy="428.0" r="1.85" fill="#f7b6d2"/>
<circle cx="145.7" cy="425.7" r="1.85" fill="#f7b6d2"/>
<circle cx="145.6" cy="431.2" r="1.85" fill="#f7b6d2"/>
<circle cx="141.0" cy="425.3" r="1.85" fill="#f7b6d2"/>
<circle cx="144.0" cy="429.1" r="1.85" fill="#f7b6d2"/>
<circle cx="147.6" cy="424.6" r="1.85" fill="#f7b6d2"/>
<circle cx="146.0" cy="423.4" r="1.85" fill="#f7b6d2"/>
<circle cx="148.0" cy="426.4" r="1.85" fill="#f7b6d2"/>
<circle cx="138.9" cy="423.6" r="1.85" fill="#f7b6d2"/>
<circle cx="143.4" cy="424.2" r="1.85" fill="#f7b6d2"/>
<circle cx="147.6" cy="430.0" r="1.85" fill="#f7b6d2"/>
<circle cx="147.6" cy="428.3" r="1.85" fill="#f7b6d2"/>
<circle cx="137.4" cy="425.1" r="1.85" fill="#f7b6d2"/>
<circle cx="152.4" cy="429.6" r="1.85" fill="#f7b6d2"/>
<circle cx="148.8" cy="430.5" r="1.85" fill="#f7b6d2"/>
<circle cx="149.5" cy="433.7" r="1.85" fill="#f7b6d2"/>
<circle cx="152.0" cy="433.0" r="1.85" fill="#f7b6d2"/>
<circle cx="151.3" cy="431.1" r="1.85" fill="#f7b6d2"/>
<circle cx="153.2" cy="431.5" r="1.85" fill="#f7b6d2"/>
<circle cx="281.6" cy="442.4" r="1.85" fill="#98df8a"/>
<circle cx="287.7" cy="445.7" r="1.85" fill="#98df8a"/>
<circle cx="284.6" cy="451.6" r="1.85" fill="#98df8a"/>
<circle cx="287.1" cy="443.0" r="1.85" fill="#98df8a"/>
<circle cx="282.6" cy="450.5" r="1.85" fill="#98df8a"/>
<circle cx="285.4" cy="449.4" r="1.85" fill="#98df8a"/>
<circle cx="283.9" cy="440.9" r="1.85" fill="#98df8a"/>
<circle cx="281.6" cy="449.5" r="1.85" fill="#98df8a"/>
<circle cx="287.3" cy="450.5" r="1.85" fill="#98df8a"/>
<circle cx="282.8" cy="445.7" r="1.85" fill="#98df8a"/>
<circle cx="284.7" cy="444.9" r="1.85" fill="#98df8a"/>
<circle cx="280.6" cy="445.3" r="1.85" fill="#98df8a"/>
<circle cx="283.4" cy="442.6" r="1.85" fill="#98df8a"/>
<circle cx="283.9" cy="447.4" r="1.85" fill="#98df8a"/>
<circle cx="288.4" cy="443.6" r="1.85" fill="#98df8a"/>
<circle cx="289.4" cy="447.1" r="1.85" fill="#98df8a"/>
<circle cx="284.9" cy="443.5" r="1.85" fill="#98df8a"/>
<circle cx="285.2" cy="441.6" r="1.85" fill="#98df8a"/>
<circle cx="286.1" cy="448.1" r="1.85" fill="#98df8a"/>
<circle cx="291.1" cy="443.5" r="1.85" fill="#98df8a"/>
<circle cx="290.6" cy="449.5" r="1.85" fill="#98df8a"/>
<circle cx="290.4" cy="440.7" r="1.85" fill="#98df8a"/>
<circle cx="291.3" cy="446.4" r="1.85" fill="#98df8a"/>
<circle cx="288.4" cy="439.6" r="1.85" fill="#98df8a"/>
<circle cx="276.2" cy="455.7" r="1.85" fill="#c49c94"/>
<circle cx="280.2" cy="463.2" r="1.85" fill="#c49c94"/>
<circle cx="277.6" cy="453.5" r="1.85" fill="#c49c94"/>
<circle cx="277.7" cy="460.0" r="1.85" fill="#c49c94"/>
<circle cx="281.7" cy="456.7" r="1.85" fill="#c49c94"/>
<circle cx="278.6" cy="456.7" r="1.85" fill="#c49c94"/>
<circle cx="276.4" cy="458.3" r="1.85" fill="#c49c94"/>
<circle cx="283.5" cy="457.0" r="1.85" fill="#c49c94"/>
<circle cx="281.7" cy="453.2" r="1.85" fill="#c49c94"/>
<circle cx="281.2" cy="462.1" r="1.85" fill="#c49c94"/>
<circle cx="281.1" cy="458.6" r="1.85" fill="#c49c94"/>
<circle cx="279.6" cy="460.4" r="1.85" fill="#c49c94"/>
<circle cx="276.5" cy="462.0" r="1.85" fill="#c49c94"/>
<circle cx="283.0" cy="458.6" r="1.85" fill="#c49c94"/>
<circle cx="272.1" cy="459.0" r="1.85" fill="#c49c94"/>
<circle cx="270.3" cy="455.9" r="1.85" fill="#c49c94"/>
<circle cx="270.4" cy="458.1" r="1.85" fill="#c49c94"/>
<circle cx="273.8" cy="460.7" r="1.85" fill="#c49c94"/>
<circle cx="273.1" cy="455.9" r="1.85" fill="#c49c94"/>
<circle cx="274.8" cy="457.9" r="1.85" fill="#c49c94"/>
<circle cx="276.4" cy="464.8" r="1.85" fill="#c49c94"/>
<circle cx="279.4" cy="462.9" r="1.85" fill="#c49c94"/>
<circle cx="276.2" cy="461.9" r="1.85" fill="#c49c94"/>
<circle cx="274.4" cy="464.8" r="1.85" fill="#c49c94"/>
<circle cx="277.9" cy="466.3" r="1.85" fill="#c49c94"/>
<circle cx="137.1" cy="330.3" r="1.85" fill="#7f7f7f"/>
<circle cx="135.2" cy="331.5" r="1.85" fill="#c7c7c7"/>
<circle cx="138.0" cy="335.0" r="1.85" fill="#7f7f7f"/>
<circle cx="139.9" cy="336.0" r="1.85" fill="#8c564b"/>
<circle cx="141.8" cy="335.5" r="1.85" fill="#8c564b"/>
<circle cx="143.2" cy="336.0" r="1.85" fill="#8c564b"/>
<circle cx="142.2" cy="337.1" r="1.85" fill="#8c564b"/>
<circle cx="139.0" cy="337.1" r="1.85" fill="#8c564b"/>
<circle cx="141.8" cy="338.8" r="1.85" fill="#c7c7c7"/>
<circle cx="137.6" cy="340.4" r="1.85" fill="#7f7f7f"/>
<circle cx="133.2" cy="345.8" r="1.85" fill="#7f7f7f"/>
<circle cx="135.7" cy="345.1" r="1.85" fill="#ffbb78"/>
<circle cx="136.2" cy="347.6" r="1.85" fill="#ffbb78"/>
<circle cx="138.5" cy="345.1" r="1.85" fill="#7f7f7f"/>
<circle cx="131.3" cy="348.3" r="1.85" fill="#9467bd"/>
<circle cx="139.9" cy="349.0" r="1.85" fill="#7f7f7f"/>
<circle cx="141.3" cy="348.1" r="1.85" fill="#7f7f7f"/>
<circle cx="143.2" cy="350.0" r="1.85" fill="#c7c7c7"/>
<circle cx="136.6" cy="350.4" r="1.85" fill="#c7c7c7"/>
<circle cx="139.0" cy="352.3" r="1.85" fill="#bcbd22"/>
<circle cx="143.6" cy="343.9" r="1.85" fill="#8c564b"/>
<circle cx="144.1" cy="345.8" r="1.85" fill="#8c564b"/>
<circle cx="147.4" cy="346.4" r="1.85" fill="#2ca02c"/>
<circle cx="148.5" cy="347.6" r="1.85" fill="#8c564b"/>
<circle cx="150.2" cy="349.0" r="1.85" fill="#2ca02c"/>
<circle cx="151.1" cy="352.3" r="1.85" fill="#2ca02c"/>
<circle cx="147.4" cy="355.8" r="1.85" fill="#c7c7c7"/>
<circle cx="145.5" cy="356.5" r="1.85" fill="#c7c7c7"/>
<circle cx="146.9" cy="358.9" r="1.85" fill="#c7c7c7"/>
<circle cx="146.0" cy="360.7" r="1.85" fill="#c7c7c7"/>
<circle cx="143.6" cy="362.6" r="1.85" fill="#c7c7c7"/>
<circle cx="142.7" cy="365.9" r="1.85" fill="#c7c7c7"/>
<circle cx="146.0" cy="364.5" r="1.85" fill="#2ca02c"/>
<circle cx="143.1" cy="364.5" r="1.85" fill="#c7c7c7"/>
<circle cx="149.7" cy="367.7" r="1.85" fill="#2ca02c"/>
<circle cx="152.5" cy="367.3" r="1.85" fill="#2ca02c"/>
<circle cx="155.0" cy="368.4" r="1.85" fill="#2ca02c"/>
<circle cx="153.9" cy="370.1" r="1.85" fill="#8c564b"/>
<circle cx="158.1" cy="370.1" r="1.85" fill="#8c564b"/>
<circle cx="153.6" cy="372.2" r="1.85" fill="#7f7f7f"/>
<circle cx="151.8" cy="376.4" r="1.85" fill="#7f7f7f"/>
<circle cx="155.0" cy="375.7" r="1.85" fill="#7f7f7f"/>
<circle cx="157.1" cy="354.0" r="1.85" fill="#7f7f7f"/>
<circle cx="158.5" cy="356.8" r="1.85" fill="#7f7f7f"/>
<circle cx="156.4" cy="358.9" r="1.85" fill="#8c564b"/>
<circle cx="156.0" cy="360.7" r="1.85" fill="#8c564b"/>
<circle cx="157.1" cy="363.1" r="1.85" fill="#2ca02c"/>
<circle cx="159.2" cy="363.5" r="1.85" fill="#2ca02c"/>
<circle cx="160.6" cy="358.9" r="1.85" fill="#2ca02c"/>
<circle cx="162.3" cy="360.7" r="1.85" fill="#7f7f7f"/>
<circle cx="164.4" cy="356.8" r="1.85" fill="#2ca02c"/>
<circle cx="164.1" cy="363.1" r="1.85" fill="#2ca02c"/>
<circle cx="165.8" cy="363.1" r="1.85" fill="#2ca02c"/>
<circle cx="163.4" cy="366.6" r="1.85" fill="#7f7f7f"/>
<circle cx="161.6" cy="368.4" r="1.85" fill="#2ca02c"/>
<circle cx="161.3" cy="352.6" r="1.85" fill="#8c564b"/>
<circle cx="164.4" cy="351.9" r="1.85" fill="#8c564b"/>
<circle cx="166.5" cy="353.3" r="1.85" fill="#8c564b"/>
<circle cx="167.2" cy="357.5" r="1.85" fill="#8c564b"/>
<circle cx="166.5" cy="360.0" r="1.85" fill="#8c564b"/>
<circle cx="169.0" cy="356.1" r="1.85" fill="#8c564b"/>
<circle cx="170.7" cy="352.3" r="1.85" fill="#8c564b"/>
<circle cx="170.7" cy="356.8" r="1.85" fill="#8c564b"/>
<circle cx="172.8" cy="354.7" r="1.85" fill="#8c564b"/>
<circle cx="174.9" cy="356.1" r="1.85" fill="#8c564b"/>
<circle cx="171.4" cy="363.8" r="1.85" fill="#7f7f7f"/>
<circle cx="175.3" cy="364.2" r="1.85" fill="#8c564b"/>
<circle cx="169.0" cy="370.1" r="1.85" fill="#2ca02c"/>
<circle cx="172.5" cy="368.7" r="1.85" fill="#7f7f7f"/>
<circle cx="172.8" cy="370.8" r="1.85" fill="#8c564b"/>
<circle cx="167.2" cy="374.3" r="1.85" fill="#c7c7c7"/>
<circle cx="127.8" cy="360.9" r="1.85" fill="#bcbd22"/>
<circle cx="131.0" cy="361.4" r="1.85" fill="#bcbd22"/>
<circle cx="132.9" cy="363.7" r="1.85" fill="#bcbd22"/>
<circle cx="131.5" cy="364.7" r="1.85" fill="#bcbd22"/>
<circle cx="126.4" cy="365.6" r="1.85" fill="#bcbd22"/>
<circle cx="126.8" cy="367.5" r="1.85" fill="#bcbd22"/>
<circle cx="125.4" cy="371.2" r="1.85" fill="#bcbd22"/>
<circle cx="133.8" cy="367.5" r="1.85" fill="#bcbd22"/>
<circle cx="133.4" cy="371.7" r="1.85" fill="#bcbd22"/>
<circle cx="135.2" cy="373.1" r="1.85" fill="#bcbd22"/>
<circle cx="137.6" cy="369.3" r="1.85" fill="#bcbd22"/>
<circle cx="138.0" cy="364.2" r="1.85" fill="#bcbd22"/>
<circle cx="139.9" cy="364.2" r="1.85" fill="#bcbd22"/>
<circle cx="132.0" cy="357.4" r="1.85" fill="#bcbd22"/>
<circle cx="134.3" cy="370.1" r="1.85" fill="#bcbd22"/>
<circle cx="129.0" cy="358.5" r="1.85" fill="#bcbd22"/>
<circle cx="128.0" cy="363.0" r="1.85" fill="#bcbd22"/>
<circle cx="136.5" cy="372.5" r="1.85" fill="#bcbd22"/>
<circle cx="132.0" cy="371.5" r="1.85" fill="#bcbd22"/>
<circle cx="139.9" cy="374.0" r="1.85" fill="#7f7f7f"/>
<circle cx="135.7" cy="378.2" r="1.85" fill="#c7c7c7"/>
<circle cx="155.8" cy="363.3" r="1.85" fill="#2ca02c"/>
<circle cx="152.5" cy="379.2" r="1.85" fill="#7f7f7f"/>
<circle cx="167.9" cy="380.1" r="1.85" fill="#7f7f7f"/>
<circle cx="167.9" cy="382.0" r="1.85" fill="#7f7f7f"/>
<circle cx="157.2" cy="377.3" r="1.85" fill="#c7c7c7"/>
<circle cx="168.9" cy="374.5" r="1.85" fill="#c7c7c7"/>
<circle cx="155.3" cy="380.6" r="1.85" fill="#ffbb78"/>
<circle cx="160.0" cy="382.4" r="1.85" fill="#ffbb78"/>
<circle cx="159.5" cy="384.8" r="1.85" fill="#ffbb78"/>
<circle cx="162.3" cy="382.0" r="1.85" fill="#ffbb78"/>
<circle cx="164.2" cy="379.6" r="1.85" fill="#ffbb78"/>
<circle cx="164.7" cy="382.4" r="1.85" fill="#ffbb78"/>
<circle cx="171.7" cy="383.8" r="1.85" fill="#ffbb78"/>
<circle cx="162.8" cy="390.8" r="1.85" fill="#ffbb78"/>
<circle cx="166.5" cy="388.0" r="1.85" fill="#ffbb78"/>
<circle cx="168.9" cy="390.8" r="1.85" fill="#ffbb78"/>
<circle cx="171.2" cy="389.9" r="1.85" fill="#ffbb78"/>
<circle cx="172.6" cy="388.5" r="1.85" fill="#ffbb78"/>
<circle cx="176.9" cy="391.9" r="1.85" fill="#ffbb78"/>
<circle cx="176.9" cy="393.4" r="1.85" fill="#ffbb78"/>
<circle cx="172.8" cy="390.8" r="1.85" fill="#ffbb78"/>
<circle cx="152.3" cy="372.3" r="1.85" fill="#7f7f7f"/>
<circle cx="132.9" cy="392.7" r="1.85" fill="#9467bd"/>
<circle cx="134.8" cy="392.2" r="1.85" fill="#9467bd"/>
<circle cx="127.7" cy="395.5" r="1.85" fill="#1f77b4"/>
<circle cx="126.3" cy="398.7" r="1.85" fill="#1f77b4"/>
<circle cx="123.0" cy="398.7" r="1.85" fill="#1f77b4"/>
<circle cx="123.5" cy="401.5" r="1.85" fill="#17becf"/>
<circle cx="120.4" cy="405.1" r="1.85" fill="#17becf"/>
<circle cx="122.5" cy="408.8" r="1.85" fill="#ffbb78"/>
<circle cx="113.6" cy="405.5" r="1.85" fill="#7f7f7f"/>
<circle cx="113.2" cy="408.8" r="1.85" fill="#1f77b4"/>
<circle cx="115.5" cy="409.5" r="1.85" fill="#17becf"/>
<circle cx="117.9" cy="409.8" r="1.85" fill="#1f77b4"/>
<circle cx="118.3" cy="411.8" r="1.85" fill="#1f77b4"/>
<circle cx="115.0" cy="411.8" r="1.85" fill="#17becf"/>
<circle cx="115.5" cy="415.1" r="1.85" fill="#17becf"/>
<circle cx="111.8" cy="413.7" r="1.85" fill="#c49c94"/>
<circle cx="109.0" cy="417.0" r="1.85" fill="#c49c94"/>
<circle cx="112.2" cy="417.9" r="1.85" fill="#17becf"/>
<circle cx="114.1" cy="419.8" r="1.85" fill="#17becf"/>
<circle cx="109.0" cy="421.2" r="1.85" fill="#17becf"/>
<circle cx="110.8" cy="423.5" r="1.85" fill="#17becf"/>
<circle cx="108.5" cy="424.9" r="1.85" fill="#17becf"/>
<circle cx="105.2" cy="425.4" r="1.85" fill="#1f77b4"/>
<circle cx="107.1" cy="427.2" r="1.85" fill="#17becf"/>
<circle cx="109.9" cy="426.8" r="1.85" fill="#1f77b4"/>
<circle cx="107.6" cy="429.4" r="1.85" fill="#1f77b4"/>
<circle cx="104.8" cy="432.4" r="1.85" fill="#ffbb78"/>
<circle cx="104.8" cy="435.7" r="1.85" fill="#1f77b4"/>
<circle cx="102.0" cy="440.0" r="1.85" fill="#17becf"/>
<circle cx="99.6" cy="441.3" r="1.85" fill="#17becf"/>
<circle cx="99.2" cy="444.1" r="1.85" fill="#17becf"/>
<circle cx="114.0" cy="411.0" r="1.85" fill="#17becf"/>
<circle cx="113.6" cy="413.8" r="1.85" fill="#17becf"/>
<circle cx="112.3" cy="416.3" r="1.85" fill="#17becf"/>
<circle cx="114.6" cy="417.0" r="1.85" fill="#17becf"/>
<circle cx="111.2" cy="419.6" r="1.85" fill="#17becf"/>
<circle cx="113.2" cy="421.2" r="1.85" fill="#17becf"/>
<circle cx="109.6" cy="422.8" r="1.85" fill="#17becf"/>
<circle cx="111.6" cy="425.4" r="1.85" fill="#17becf"/>
<circle cx="116.2" cy="412.8" r="1.85" fill="#17becf"/>
<circle cx="99.2" cy="446.6" r="1.85" fill="#17becf"/>
<circle cx="98.8" cy="448.6" r="1.85" fill="#17becf"/>
<circle cx="127.3" cy="393.6" r="1.85" fill="#17becf"/>
<circle cx="127.8" cy="395.3" r="1.85" fill="#17becf"/>
<circle cx="124.0" cy="400.2" r="1.85" fill="#1f77b4"/>
<circle cx="153.9" cy="406.7" r="1.85" fill="#ffbb78"/>
<circle cx="167.5" cy="403.5" r="1.85" fill="#d62728"/>
<circle cx="167.5" cy="405.8" r="1.85" fill="#d62728"/>
<circle cx="173.1" cy="408.6" r="1.85" fill="#d62728"/>
<circle cx="169.8" cy="402.5" r="1.85" fill="#9edae5"/>
<circle cx="173.6" cy="405.8" r="1.85" fill="#9edae5"/>
<circle cx="160.5" cy="408.6" r="1.85" fill="#9467bd"/>
<circle cx="163.7" cy="409.1" r="1.85" fill="#9467bd"/>
<circle cx="64.7" cy="469.9" r="1.85" fill="#aec7e8"/>
<circle cx="68.4" cy="472.7" r="1.85" fill="#aec7e8"/>
<circle cx="69.4" cy="468.0" r="1.85" fill="#c49c94"/>
<circle cx="71.2" cy="467.1" r="1.85" fill="#c49c94"/>
<circle cx="68.4" cy="476.0" r="1.85" fill="#c49c94"/>
<circle cx="72.6" cy="474.6" r="1.85" fill="#c49c94"/>
<circle cx="82.9" cy="470.4" r="1.85" fill="#c49c94"/>
<circle cx="82.9" cy="462.9" r="1.85" fill="#c49c94"/>
<circle cx="91.8" cy="465.7" r="1.85" fill="#c49c94"/>
<circle cx="94.1" cy="464.3" r="1.85" fill="#c49c94"/>
<circle cx="92.7" cy="449.3" r="1.85" fill="#c49c94"/>
<circle cx="98.3" cy="471.8" r="1.85" fill="#c49c94"/>
<circle cx="108.1" cy="472.7" r="1.85" fill="#c49c94"/>
<circle cx="73.6" cy="470.4" r="1.85" fill="#1f77b4"/>
<circle cx="80.8" cy="464.5" r="1.85" fill="#1f77b4"/>
<circle cx="88.5" cy="462.9" r="1.85" fill="#1f77b4"/>
<circle cx="90.4" cy="456.8" r="1.85" fill="#1f77b4"/>
<circle cx="96.5" cy="458.2" r="1.85" fill="#1f77b4"/>
<circle cx="103.2" cy="456.8" r="1.85" fill="#1f77b4"/>
<circle cx="107.7" cy="454.5" r="1.85" fill="#1f77b4"/>
<circle cx="94.6" cy="452.1" r="1.85" fill="#1f77b4"/>
<circle cx="95.1" cy="449.3" r="1.85" fill="#1f77b4"/>
<circle cx="76.4" cy="466.6" r="1.85" fill="#d62728"/>
<circle cx="89.0" cy="460.1" r="1.85" fill="#d62728"/>
<circle cx="93.2" cy="459.6" r="1.85" fill="#d62728"/>
<circle cx="96.5" cy="460.1" r="1.85" fill="#d62728"/>
<circle cx="101.6" cy="458.2" r="1.85" fill="#d62728"/>
<circle cx="104.9" cy="455.4" r="1.85" fill="#d62728"/>
<circle cx="109.6" cy="457.3" r="1.85" fill="#d62728"/>
<circle cx="77.8" cy="469.0" r="1.85" fill="#aec7e8"/>
<circle cx="80.1" cy="467.6" r="1.85" fill="#aec7e8"/>
<circle cx="84.3" cy="466.2" r="1.85" fill="#aec7e8"/>
<circle cx="87.1" cy="466.2" r="1.85" fill="#aec7e8"/>
<circle cx="82.4" cy="468.0" r="1.85" fill="#aec7e8"/>
<circle cx="76.8" cy="460.6" r="1.85" fill="#c5b0d5"/>
<circle cx="79.6" cy="459.6" r="1.85" fill="#c5b0d5"/>
<circle cx="104.9" cy="451.2" r="1.85" fill="#c5b0d5"/>
<circle cx="106.8" cy="450.3" r="1.85" fill="#c5b0d5"/>
<circle cx="86.0" cy="455.9" r="1.85" fill="#9467bd"/>
<circle cx="109.6" cy="447.5" r="1.85" fill="#9467bd"/>
<circle cx="93.2" cy="456.8" r="1.85" fill="#17becf"/>
<circle cx="97.9" cy="450.3" r="1.85" fill="#17becf"/>
<circle cx="100.7" cy="465.0" r="1.85" fill="#dbdb8d"/>
<circle cx="95.5" cy="470.1" r="1.85" fill="#ff9896"/>
<circle cx="103.0" cy="472.2" r="1.85" fill="#ff9896"/>
<circle cx="107.2" cy="446.1" r="1.85" fill="#f7b6d2"/>
<circle cx="98.3" cy="473.6" r="1.85" fill="#ff7f0e"/>
<circle cx="100.2" cy="474.4" r="1.85" fill="#ff7f0e"/>
<circle cx="120.7" cy="442.0" r="1.85" fill="#ffbb78"/>
<circle cx="128.0" cy="441.4" r="1.85" fill="#9edae5"/>
<circle cx="137.4" cy="440.5" r="1.85" fill="#d62728"/>
<circle cx="134.1" cy="444.5" r="1.85" fill="#d62728"/>
<circle cx="133.6" cy="447.3" r="1.85" fill="#d62728"/>
<circle cx="135.5" cy="447.8" r="1.85" fill="#d62728"/>
<circle cx="141.1" cy="444.0" r="1.85" fill="#9467bd"/>
<circle cx="113.6" cy="446.4" r="1.85" fill="#9467bd"/>
<circle cx="118.2" cy="445.4" r="1.85" fill="#9467bd"/>
<circle cx="123.4" cy="445.0" r="1.85" fill="#9467bd"/>
<circle cx="126.2" cy="448.7" r="1.85" fill="#9467bd"/>
<circle cx="127.1" cy="447.3" r="1.85" fill="#c5b0d5"/>
<circle cx="130.8" cy="450.4" r="1.85" fill="#c5b0d5"/>
<circle cx="113.6" cy="450.1" r="1.85" fill="#9edae5"/>
<circle cx="121.0" cy="449.6" r="1.85" fill="#9edae5"/>
<circle cx="121.3" cy="451.0" r="1.85" fill="#aec7e8"/>
<circle cx="127.6" cy="452.4" r="1.85" fill="#9edae5"/>
<circle cx="132.7" cy="452.9" r="1.85" fill="#dbdb8d"/>
<circle cx="135.5" cy="454.1" r="1.85" fill="#e377c2"/>
<circle cx="124.3" cy="454.8" r="1.85" fill="#e377c2"/>
<circle cx="124.3" cy="457.1" r="1.85" fill="#e377c2"/>
<circle cx="128.0" cy="457.9" r="1.85" fill="#dbdb8d"/>
<circle cx="124.8" cy="459.9" r="1.85" fill="#dbdb8d"/>
<circle cx="140.4" cy="454.8" r="1.85" fill="#dbdb8d"/>
<circle cx="143.0" cy="450.1" r="1.85" fill="#dbdb8d"/>
<circle cx="145.8" cy="451.0" r="1.85" fill="#dbdb8d"/>
<circle cx="146.7" cy="447.8" r="1.85" fill="#c5b0d5"/>
<circle cx="148.6" cy="451.0" r="1.85" fill="#c5b0d5"/>
<circle cx="152.8" cy="449.8" r="1.85" fill="#dbdb8d"/>
<circle cx="156.1" cy="450.1" r="1.85" fill="#dbdb8d"/>
<circle cx="160.3" cy="450.1" r="1.85" fill="#dbdb8d"/>
<circle cx="156.5" cy="447.8" r="1.85" fill="#e377c2"/>
<circle cx="160.3" cy="446.8" r="1.85" fill="#e377c2"/>
<circle cx="162.1" cy="445.0" r="1.85" fill="#e377c2"/>
<circle cx="162.6" cy="437.5" r="1.85" fill="#dbdb8d"/>
<circle cx="141.1" cy="430.5" r="1.85" fill="#f7b6d2"/>
<circle cx="146.7" cy="431.4" r="1.85" fill="#f7b6d2"/>
<circle cx="148.6" cy="433.3" r="1.85" fill="#f7b6d2"/>
<circle cx="154.2" cy="430.9" r="1.85" fill="#f7b6d2"/>
<circle cx="161.2" cy="430.9" r="1.85" fill="#9edae5"/>
<circle cx="112.0" cy="457.1" r="1.85" fill="#1f77b4"/>
<circle cx="116.8" cy="458.5" r="1.85" fill="#1f77b4"/>
<circle cx="119.6" cy="459.9" r="1.85" fill="#1f77b4"/>
<circle cx="114.0" cy="459.0" r="1.85" fill="#d62728"/>
<circle cx="112.6" cy="460.4" r="1.85" fill="#9467bd"/>
<circle cx="115.9" cy="462.2" r="1.85" fill="#9467bd"/>
<circle cx="110.7" cy="453.4" r="1.85" fill="#c5b0d5"/>
<circle cx="117.3" cy="466.0" r="1.85" fill="#c49c94"/>
<circle cx="161.8" cy="412.0" r="1.85" fill="#c5b0d5"/>
<circle cx="164.1" cy="413.1" r="1.85" fill="#ffbb78"/>
<circle cx="148.2" cy="412.0" r="1.85" fill="#9467bd"/>
<circle cx="148.7" cy="414.8" r="1.85" fill="#9467bd"/>
<circle cx="150.1" cy="417.2" r="1.85" fill="#9467bd"/>
<circle cx="147.3" cy="416.2" r="1.85" fill="#9467bd"/>
<circle cx="145.9" cy="413.0" r="1.85" fill="#c5b0d5"/>
<circle cx="147.3" cy="419.0" r="1.85" fill="#c5b0d5"/>
<circle cx="151.5" cy="412.5" r="1.85" fill="#9edae5"/>
<circle cx="154.8" cy="412.5" r="1.85" fill="#9edae5"/>
<circle cx="158.0" cy="413.0" r="1.85" fill="#9edae5"/>
<circle cx="158.0" cy="415.3" r="1.85" fill="#9edae5"/>
<circle cx="157.1" cy="420.4" r="1.85" fill="#9edae5"/>
<circle cx="157.1" cy="423.7" r="1.85" fill="#9edae5"/>
<circle cx="159.9" cy="425.6" r="1.85" fill="#9edae5"/>
<circle cx="162.7" cy="426.5" r="1.85" fill="#9edae5"/>
<circle cx="165.0" cy="425.6" r="1.85" fill="#9edae5"/>
<circle cx="163.6" cy="427.9" r="1.85" fill="#9edae5"/>
<circle cx="167.4" cy="429.3" r="1.85" fill="#9edae5"/>
<circle cx="169.3" cy="430.7" r="1.85" fill="#9edae5"/>
<circle cx="150.6" cy="418.6" r="1.85" fill="#9edae5"/>
<circle cx="156.2" cy="417.6" r="1.85" fill="#c5b0d5"/>
<circle cx="166.4" cy="418.1" r="1.85" fill="#9467bd"/>
<circle cx="171.6" cy="420.9" r="1.85" fill="#9467bd"/>
<circle cx="171.6" cy="425.6" r="1.85" fill="#9467bd"/>
<circle cx="168.3" cy="422.8" r="1.85" fill="#c5b0d5"/>
<circle cx="173.5" cy="425.6" r="1.85" fill="#c5b0d5"/>
<circle cx="139.3" cy="419.7" r="1.85" fill="#aec7e8"/>
<circle cx="158.0" cy="427.9" r="1.85" fill="#f7b6d2"/>
<circle cx="170.7" cy="428.8" r="1.85" fill="#aec7e8"/>
<circle cx="170.2" cy="433.0" r="1.85" fill="#dbdb8d"/>
<circle cx="174.4" cy="432.6" r="1.85" fill="#c5b0d5"/>
<circle cx="166.9" cy="434.4" r="1.85" fill="#c5b0d5"/>
<circle cx="172.1" cy="435.9" r="1.85" fill="#c5b0d5"/>
<circle cx="170.2" cy="438.7" r="1.85" fill="#dbdb8d"/>
<circle cx="166.9" cy="443.3" r="1.85" fill="#dbdb8d"/>
<circle cx="165.5" cy="438.2" r="1.85" fill="#e377c2"/>
<circle cx="164.1" cy="440.5" r="1.85" fill="#e377c2"/>
<circle cx="170.2" cy="441.5" r="1.85" fill="#e377c2"/>
<circle cx="171.1" cy="444.3" r="1.85" fill="#e377c2"/>
<circle cx="170.2" cy="446.6" r="1.85" fill="#e377c2"/>
<circle cx="166.2" cy="448.7" r="1.85" fill="#dbdb8d"/>
<circle cx="165.2" cy="450.1" r="1.85" fill="#dbdb8d"/>
<circle cx="167.1" cy="437.5" r="1.85" fill="#e377c2"/>
<circle cx="162.9" cy="444.0" r="1.85" fill="#e377c2"/>
<circle cx="157.8" cy="449.6" r="1.85" fill="#e377c2"/>
<circle cx="152.9" cy="474.9" r="1.85" fill="#e377c2"/>
<circle cx="154.0" cy="479.2" r="1.85" fill="#ff9896"/>
<circle cx="155.8" cy="478.9" r="1.85" fill="#ff9896"/>
<circle cx="159.8" cy="480.0" r="1.85" fill="#ff9896"/>
<circle cx="162.3" cy="478.9" r="1.85" fill="#ff9896"/>
<circle cx="165.9" cy="476.7" r="1.85" fill="#e377c2"/>
<circle cx="166.3" cy="479.2" r="1.85" fill="#e377c2"/>
<circle cx="165.9" cy="481.4" r="1.85" fill="#e377c2"/>
<circle cx="154.7" cy="486.5" r="1.85" fill="#ff9896"/>
<circle cx="157.2" cy="485.0" r="1.85" fill="#ff9896"/>
<circle cx="159.8" cy="484.3" r="1.85" fill="#ff9896"/>
<circle cx="155.8" cy="489.4" r="1.85" fill="#ff9896"/>
<circle cx="158.7" cy="488.3" r="1.85" fill="#ff9896"/>
<circle cx="160.5" cy="487.2" r="1.85" fill="#ff9896"/>
<circle cx="156.5" cy="491.6" r="1.85" fill="#ff9896"/>
<circle cx="159.8" cy="491.2" r="1.85" fill="#ff9896"/>
<circle cx="163.7" cy="486.5" r="1.85" fill="#ff9896"/>
<circle cx="165.2" cy="487.6" r="1.85" fill="#ff9896"/>
<circle cx="164.5" cy="490.8" r="1.85" fill="#ff9896"/>
<circle cx="162.3" cy="489.4" r="1.85" fill="#ff9896"/>
<circle cx="147.1" cy="495.2" r="1.85" fill="#ff7f0e"/>
<circle cx="150.0" cy="495.2" r="1.85" fill="#ff7f0e"/>
<circle cx="148.9" cy="497.7" r="1.85" fill="#ff7f0e"/>
<circle cx="146.3" cy="496.3" r="1.85" fill="#ff7f0e"/>
<circle cx="154.0" cy="495.6" r="1.85" fill="#ff7f0e"/>
<circle cx="154.7" cy="498.1" r="1.85" fill="#ff7f0e"/>
<circle cx="152.9" cy="499.2" r="1.85" fill="#ff7f0e"/>
<circle cx="157.2" cy="497.4" r="1.85" fill="#ff7f0e"/>
<circle cx="159.4" cy="498.1" r="1.85" fill="#ff7f0e"/>
<circle cx="161.6" cy="498.8" r="1.85" fill="#ff7f0e"/>
<circle cx="156.5" cy="500.3" r="1.85" fill="#ff7f0e"/>
<circle cx="159.4" cy="501.0" r="1.85" fill="#ff7f0e"/>
<circle cx="162.3" cy="501.0" r="1.85" fill="#ff7f0e"/>
<circle cx="155.8" cy="503.2" r="1.85" fill="#ff7f0e"/>
<circle cx="158.7" cy="503.9" r="1.85" fill="#ff7f0e"/>
<circle cx="161.6" cy="503.2" r="1.85" fill="#ff7f0e"/>
<circle cx="163.0" cy="502.4" r="1.85" fill="#ff7f0e"/>
<circle cx="157.9" cy="506.1" r="1.85" fill="#ff7f0e"/>
<circle cx="160.5" cy="506.1" r="1.85" fill="#ff7f0e"/>
<circle cx="159.4" cy="507.5" r="1.85" fill="#ff7f0e"/>
<circle cx="155.0" cy="501.0" r="1.85" fill="#ff7f0e"/>
<circle cx="167.4" cy="492.7" r="1.85" fill="#9467bd"/>
<circle cx="165.2" cy="495.2" r="1.85" fill="#9467bd"/>
<circle cx="164.1" cy="496.6" r="1.85" fill="#9467bd"/>
<circle cx="161.6" cy="511.1" r="1.85" fill="#c5b0d5"/>
</g>
<g>
<circle cx="519.8" cy="348.3" r="1.85" fill="#e377c2"/>
<circle cx="518.7" cy="349.9" r="1.85" fill="#e377c2"/>
<circle cx="523.2" cy="348.9" r="1.85" fill="#e377c2"/>
<circle cx="523.6" cy="352.2" r="1.85" fill="#e377c2"/>
<circle cx="520.3" cy="351.2" r="1.85" fill="#e377c2"/>
<circle cx="480.1" cy="331.0" r="1.85" fill="#8c564b"/>
<circle cx="476.6" cy="333.1" r="1.85" fill="#2ca02c"/>
<circle cx="480.8" cy="333.4" r="1.85" fill="#2ca02c"/>
<circle cx="486.3" cy="332.0" r="1.85" fill="#2ca02c"/>
<circle cx="492.9" cy="330.3" r="1.85" fill="#9edae5"/>
<circle cx="497.7" cy="332.0" r="1.85" fill="#9edae5"/>
<circle cx="472.4" cy="335.9" r="1.85" fill="#c7c7c7"/>
<circle cx="476.5" cy="336.2" r="1.85" fill="#ffbb78"/>
<circle cx="476.3" cy="338.3" r="1.85" fill="#bcbd22"/>
<circle cx="482.6" cy="336.2" r="1.85" fill="#2ca02c"/>
<circle cx="484.3" cy="336.2" r="1.85" fill="#2ca02c"/>
<circle cx="488.4" cy="336.2" r="1.85" fill="#2ca02c"/>
<circle cx="490.6" cy="335.2" r="1.85" fill="#2ca02c"/>
<circle cx="493.8" cy="334.8" r="1.85" fill="#2ca02c"/>
<circle cx="495.5" cy="336.6" r="1.85" fill="#7f7f7f"/>
<circle cx="483.6" cy="339.0" r="1.85" fill="#8c564b"/>
<circle cx="481.9" cy="340.1" r="1.85" fill="#8c564b"/>
<circle cx="488.4" cy="339.4" r="1.85" fill="#8c564b"/>
<circle cx="479.1" cy="342.5" r="1.85" fill="#7f7f7f"/>
<circle cx="486.4" cy="343.6" r="1.85" fill="#8c564b"/>
<circle cx="491.7" cy="342.5" r="1.85" fill="#8c564b"/>
<circle cx="467.5" cy="343.2" r="1.85" fill="#9467bd"/>
<circle cx="466.1" cy="345.3" r="1.85" fill="#9467bd"/>
<circle cx="471.0" cy="345.3" r="1.85" fill="#c5b0d5"/>
<circle cx="466.8" cy="348.1" r="1.85" fill="#c5b0d5"/>
<circle cx="473.8" cy="346.7" r="1.85" fill="#bcbd22"/>
<circle cx="482.2" cy="344.6" r="1.85" fill="#7f7f7f"/>
<circle cx="481.5" cy="347.1" r="1.85" fill="#7f7f7f"/>
<circle cx="486.4" cy="346.0" r="1.85" fill="#2ca02c"/>
<circle cx="489.2" cy="346.0" r="1.85" fill="#bcbd22"/>
<circle cx="493.1" cy="346.0" r="1.85" fill="#8c564b"/>
<circle cx="491.3" cy="348.1" r="1.85" fill="#bcbd22"/>
<circle cx="494.1" cy="349.5" r="1.85" fill="#bcbd22"/>
<circle cx="478.0" cy="349.2" r="1.85" fill="#c7c7c7"/>
<circle cx="482.9" cy="349.5" r="1.85" fill="#2ca02c"/>
<circle cx="473.8" cy="351.6" r="1.85" fill="#7f7f7f"/>
<circle cx="474.5" cy="355.8" r="1.85" fill="#7f7f7f"/>
<circle cx="474.5" cy="353.7" r="1.85" fill="#7f7f7f"/>
<circle cx="478.7" cy="353.7" r="1.85" fill="#8c564b"/>
<circle cx="482.9" cy="354.4" r="1.85" fill="#ffbb78"/>
<circle cx="487.0" cy="353.4" r="1.85" fill="#2ca02c"/>
<circle cx="489.2" cy="355.8" r="1.85" fill="#c7c7c7"/>
<circle cx="491.3" cy="355.8" r="1.85" fill="#c7c7c7"/>
<circle cx="494.8" cy="355.1" r="1.85" fill="#8c564b"/>
<circle cx="465.1" cy="354.4" r="1.85" fill="#2ca02c"/>
<circle cx="469.6" cy="356.2" r="1.85" fill="#bcbd22"/>
<circle cx="456.0" cy="356.2" r="1.85" fill="#7f7f7f"/>
<circle cx="480.1" cy="357.2" r="1.85" fill="#2ca02c"/>
<circle cx="477.7" cy="360.0" r="1.85" fill="#ffbb78"/>
<circle cx="482.2" cy="359.3" r="1.85" fill="#bcbd22"/>
<circle cx="485.4" cy="357.9" r="1.85" fill="#bcbd22"/>
<circle cx="483.6" cy="361.4" r="1.85" fill="#bcbd22"/>
<circle cx="465.1" cy="360.7" r="1.85" fill="#7f7f7f"/>
<circle cx="470.0" cy="360.0" r="1.85" fill="#bcbd22"/>
<circle cx="470.0" cy="362.1" r="1.85" fill="#bcbd22"/>
<circle cx="495.2" cy="358.6" r="1.85" fill="#bcbd22"/>
<circle cx="491.7" cy="362.5" r="1.85" fill="#8c564b"/>
<circle cx="497.7" cy="361.4" r="1.85" fill="#2ca02c"/>
<circle cx="448.3" cy="361.7" r="1.85" fill="#ffbb78"/>
<circle cx="472.9" cy="364.8" r="1.85" fill="#bcbd22"/>
<circle cx="484.8" cy="362.0" r="1.85" fill="#bcbd22"/>
<circle cx="481.7" cy="364.1" r="1.85" fill="#bcbd22"/>
<circle cx="478.2" cy="365.5" r="1.85" fill="#c7c7c7"/>
<circle cx="478.9" cy="367.6" r="1.85" fill="#2ca02c"/>
<circle cx="476.4" cy="369.7" r="1.85" fill="#2ca02c"/>
<circle cx="485.9" cy="368.7" r="1.85" fill="#8c564b"/>
<circle cx="463.1" cy="366.6" r="1.85" fill="#7f7f7f"/>
<circle cx="463.5" cy="369.0" r="1.85" fill="#ffbb78"/>
<circle cx="469.4" cy="371.8" r="1.85" fill="#9467bd"/>
<circle cx="474.7" cy="372.2" r="1.85" fill="#7f7f7f"/>
<circle cx="480.6" cy="371.5" r="1.85" fill="#2ca02c"/>
<circle cx="483.8" cy="372.5" r="1.85" fill="#2ca02c"/>
<circle cx="451.2" cy="373.6" r="1.85" fill="#c7c7c7"/>
<circle cx="465.9" cy="373.9" r="1.85" fill="#c7c7c7"/>
<circle cx="465.2" cy="375.7" r="1.85" fill="#c7c7c7"/>
<circle cx="472.9" cy="375.0" r="1.85" fill="#2ca02c"/>
<circle cx="474.7" cy="377.4" r="1.85" fill="#2ca02c"/>
<circle cx="475.7" cy="379.2" r="1.85" fill="#2ca02c"/>
<circle cx="458.2" cy="377.8" r="1.85" fill="#2ca02c"/>
<circle cx="464.9" cy="378.5" r="1.85" fill="#8c564b"/>
<circle cx="480.3" cy="375.7" r="1.85" fill="#8c564b"/>
<circle cx="482.7" cy="375.3" r="1.85" fill="#7f7f7f"/>
<circle cx="481.3" cy="377.8" r="1.85" fill="#7f7f7f"/>
<circle cx="487.7" cy="376.0" r="1.85" fill="#8c564b"/>
<circle cx="469.8" cy="380.2" r="1.85" fill="#bcbd22"/>
<circle cx="454.4" cy="380.9" r="1.85" fill="#c7c7c7"/>
<circle cx="473.3" cy="382.0" r="1.85" fill="#7f7f7f"/>
<circle cx="482.0" cy="381.3" r="1.85" fill="#9467bd"/>
<circle cx="485.5" cy="382.7" r="1.85" fill="#ffbb78"/>
<circle cx="461.0" cy="382.0" r="1.85" fill="#ffbb78"/>
<circle cx="461.0" cy="384.4" r="1.85" fill="#ffbb78"/>
<circle cx="467.0" cy="384.4" r="1.85" fill="#ffbb78"/>
<circle cx="469.4" cy="383.4" r="1.85" fill="#ffbb78"/>
<circle cx="467.0" cy="386.5" r="1.85" fill="#ffbb78"/>
<circle cx="477.5" cy="382.7" r="1.85" fill="#ffbb78"/>
<circle cx="475.7" cy="385.8" r="1.85" fill="#ffbb78"/>
<circle cx="478.2" cy="385.8" r="1.85" fill="#ffbb78"/>
<circle cx="451.2" cy="384.8" r="1.85" fill="#8c564b"/>
<circle cx="457.2" cy="384.1" r="1.85" fill="#7f7f7f"/>
<circle cx="457.2" cy="385.8" r="1.85" fill="#7f7f7f"/>
<circle cx="463.8" cy="384.4" r="1.85" fill="#8c564b"/>
<circle cx="454.7" cy="389.2" r="1.85" fill="#7f7f7f"/>
<circle cx="460.7" cy="389.3" r="1.85" fill="#c7c7c7"/>
<circle cx="471.2" cy="389.7" r="1.85" fill="#8c564b"/>
<circle cx="474.3" cy="389.7" r="1.85" fill="#8c564b"/>
<circle cx="478.2" cy="391.4" r="1.85" fill="#8c564b"/>
<circle cx="484.8" cy="385.8" r="1.85" fill="#dbdb8d"/>
<circle cx="483.4" cy="388.0" r="1.85" fill="#dbdb8d"/>
<circle cx="443.2" cy="391.1" r="1.85" fill="#c5b0d5"/>
<circle cx="463.1" cy="392.1" r="1.85" fill="#9edae5"/>
<circle cx="464.2" cy="391.4" r="1.85" fill="#7f7f7f"/>
<circle cx="499.0" cy="331.7" r="1.85" fill="#9edae5"/>
<circle cx="500.7" cy="333.1" r="1.85" fill="#dbdb8d"/>
<circle cx="502.5" cy="339.4" r="1.85" fill="#bcbd22"/>
<circle cx="501.8" cy="348.8" r="1.85" fill="#ff9896"/>
<circle cx="510.9" cy="348.8" r="1.85" fill="#c5b0d5"/>
<circle cx="513.0" cy="348.8" r="1.85" fill="#e377c2"/>
<circle cx="506.0" cy="353.7" r="1.85" fill="#e377c2"/>
<circle cx="511.9" cy="353.7" r="1.85" fill="#9467bd"/>
<circle cx="524.4" cy="356.2" r="1.85" fill="#e377c2"/>
<circle cx="509.5" cy="356.9" r="1.85" fill="#dbdb8d"/>
<circle cx="513.7" cy="357.2" r="1.85" fill="#dbdb8d"/>
<circle cx="519.6" cy="359.3" r="1.85" fill="#dbdb8d"/>
<circle cx="522.1" cy="359.7" r="1.85" fill="#dbdb8d"/>
<circle cx="516.8" cy="357.6" r="1.85" fill="#c5b0d5"/>
<circle cx="511.9" cy="360.4" r="1.85" fill="#9edae5"/>
<circle cx="516.1" cy="361.1" r="1.85" fill="#9edae5"/>
<circle cx="501.8" cy="361.4" r="1.85" fill="#c5b0d5"/>
<circle cx="529.4" cy="362.8" r="1.85" fill="#e377c2"/>
<circle cx="491.3" cy="365.2" r="1.85" fill="#8c564b"/>
<circle cx="497.9" cy="364.5" r="1.85" fill="#8c564b"/>
<circle cx="489.9" cy="367.3" r="1.85" fill="#8c564b"/>
<circle cx="496.5" cy="366.2" r="1.85" fill="#ffbb78"/>
<circle cx="493.4" cy="368.3" r="1.85" fill="#ffbb78"/>
<circle cx="494.1" cy="370.8" r="1.85" fill="#ffbb78"/>
<circle cx="492.0" cy="372.2" r="1.85" fill="#ffbb78"/>
<circle cx="494.8" cy="371.8" r="1.85" fill="#ffbb78"/>
<circle cx="489.5" cy="369.7" r="1.85" fill="#7f7f7f"/>
<circle cx="497.6" cy="369.7" r="1.85" fill="#bcbd22"/>
<circle cx="497.2" cy="371.8" r="1.85" fill="#bcbd22"/>
<circle cx="500.0" cy="372.9" r="1.85" fill="#bcbd22"/>
<circle cx="492.3" cy="376.0" r="1.85" fill="#bcbd22"/>
<circle cx="494.4" cy="375.7" r="1.85" fill="#bcbd22"/>
<circle cx="489.9" cy="378.5" r="1.85" fill="#ffbb78"/>
<circle cx="490.2" cy="380.2" r="1.85" fill="#ffbb78"/>
<circle cx="494.8" cy="379.2" r="1.85" fill="#ffbb78"/>
<circle cx="501.1" cy="378.1" r="1.85" fill="#dbdb8d"/>
<circle cx="503.2" cy="369.7" r="1.85" fill="#ff9896"/>
<circle cx="492.7" cy="383.4" r="1.85" fill="#ff9896"/>
<circle cx="486.7" cy="385.8" r="1.85" fill="#dbdb8d"/>
<circle cx="499.7" cy="387.2" r="1.85" fill="#dbdb8d"/>
<circle cx="490.2" cy="389.3" r="1.85" fill="#e377c2"/>
<circle cx="495.8" cy="389.3" r="1.85" fill="#e377c2"/>
<circle cx="497.9" cy="390.4" r="1.85" fill="#e377c2"/>
<circle cx="508.1" cy="372.9" r="1.85" fill="#e377c2"/>
<circle cx="509.1" cy="376.7" r="1.85" fill="#e377c2"/>
<circle cx="503.9" cy="382.3" r="1.85" fill="#9edae5"/>
<circle cx="506.7" cy="385.8" r="1.85" fill="#9edae5"/>
<circle cx="516.8" cy="373.2" r="1.85" fill="#dbdb8d"/>
<circle cx="522.4" cy="371.8" r="1.85" fill="#dbdb8d"/>
<circle cx="524.9" cy="371.8" r="1.85" fill="#e377c2"/>
<circle cx="528.7" cy="366.2" r="1.85" fill="#e377c2"/>
<circle cx="514.0" cy="360.3" r="1.85" fill="#9edae5"/>
<circle cx="513.7" cy="362.7" r="1.85" fill="#9edae5"/>
<circle cx="514.0" cy="364.8" r="1.85" fill="#9edae5"/>
<circle cx="414.6" cy="352.7" r="1.85" fill="#ff7f0e"/>
<circle cx="414.2" cy="355.2" r="1.85" fill="#ff7f0e"/>
<circle cx="411.8" cy="356.6" r="1.85" fill="#ff7f0e"/>
<circle cx="407.6" cy="356.9" r="1.85" fill="#ff7f0e"/>
<circle cx="410.0" cy="358.3" r="1.85" fill="#ff7f0e"/>
<circle cx="412.1" cy="359.0" r="1.85" fill="#ff7f0e"/>
<circle cx="407.2" cy="361.1" r="1.85" fill="#ff7f0e"/>
<circle cx="412.5" cy="361.1" r="1.85" fill="#ff7f0e"/>
<circle cx="411.1" cy="363.2" r="1.85" fill="#ff7f0e"/>
<circle cx="413.5" cy="364.6" r="1.85" fill="#ff7f0e"/>
<circle cx="419.5" cy="355.9" r="1.85" fill="#ff7f0e"/>
<circle cx="420.2" cy="357.6" r="1.85" fill="#ff7f0e"/>
<circle cx="427.9" cy="353.1" r="1.85" fill="#ff9896"/>
<circle cx="427.2" cy="355.9" r="1.85" fill="#ff9896"/>
<circle cx="425.8" cy="357.3" r="1.85" fill="#ff9896"/>
<circle cx="422.3" cy="360.1" r="1.85" fill="#ff9896"/>
<circle cx="419.5" cy="361.5" r="1.85" fill="#ff9896"/>
<circle cx="416.3" cy="365.0" r="1.85" fill="#ff9896"/>
<circle cx="419.8" cy="367.8" r="1.85" fill="#9467bd"/>
<circle cx="430.3" cy="366.7" r="1.85" fill="#c5b0d5"/>
<circle cx="431.7" cy="366.0" r="1.85" fill="#dbdb8d"/>
<circle cx="430.3" cy="370.2" r="1.85" fill="#c7c7c7"/>
<circle cx="400.2" cy="373.7" r="1.85" fill="#ff7f0e"/>
<circle cx="401.6" cy="370.6" r="1.85" fill="#ff7f0e"/>
<circle cx="404.8" cy="369.2" r="1.85" fill="#ff7f0e"/>
<circle cx="406.2" cy="372.0" r="1.85" fill="#ff7f0e"/>
<circle cx="406.5" cy="374.4" r="1.85" fill="#ff7f0e"/>
<circle cx="409.3" cy="369.9" r="1.85" fill="#ff7f0e"/>
<circle cx="410.7" cy="372.0" r="1.85" fill="#ff9896"/>
<circle cx="408.0" cy="373.8" r="1.85" fill="#ff9896"/>
<circle cx="410.8" cy="375.8" r="1.85" fill="#ff9896"/>
<circle cx="407.6" cy="376.2" r="1.85" fill="#ff9896"/>
<circle cx="411.8" cy="373.2" r="1.85" fill="#ff9896"/>
<circle cx="412.8" cy="374.1" r="1.85" fill="#ff9896"/>
<circle cx="415.3" cy="370.6" r="1.85" fill="#ff9896"/>
<circle cx="405.1" cy="377.6" r="1.85" fill="#ff9896"/>
<circle cx="406.2" cy="380.7" r="1.85" fill="#ff9896"/>
<circle cx="418.1" cy="378.6" r="1.85" fill="#ff7f0e"/>
<circle cx="421.6" cy="381.1" r="1.85" fill="#ff9896"/>
<circle cx="413.9" cy="391.9" r="1.85" fill="#e377c2"/>
<circle cx="413.9" cy="396.5" r="1.85" fill="#e377c2"/>
<circle cx="418.1" cy="394.4" r="1.85" fill="#e377c2"/>
<circle cx="411.4" cy="394.0" r="1.85" fill="#dbdb8d"/>
<circle cx="418.4" cy="391.2" r="1.85" fill="#dbdb8d"/>
<circle cx="422.3" cy="392.6" r="1.85" fill="#dbdb8d"/>
<circle cx="420.2" cy="395.8" r="1.85" fill="#dbdb8d"/>
<circle cx="420.2" cy="398.9" r="1.85" fill="#dbdb8d"/>
<circle cx="425.8" cy="393.3" r="1.85" fill="#c5b0d5"/>
<circle cx="422.5" cy="401.4" r="1.85" fill="#9467bd"/>
<circle cx="425.8" cy="400.7" r="1.85" fill="#c5b0d5"/>
<circle cx="430.5" cy="402.3" r="1.85" fill="#7f7f7f"/>
<circle cx="434.4" cy="401.9" r="1.85" fill="#c7c7c7"/>
<circle cx="440.3" cy="399.8" r="1.85" fill="#7f7f7f"/>
<circle cx="443.0" cy="395.1" r="1.85" fill="#7f7f7f"/>
<circle cx="441.2" cy="396.1" r="1.85" fill="#8c564b"/>
<circle cx="414.6" cy="404.2" r="1.85" fill="#e377c2"/>
<circle cx="421.9" cy="404.5" r="1.85" fill="#dbdb8d"/>
<circle cx="415.3" cy="406.3" r="1.85" fill="#dbdb8d"/>
<circle cx="418.3" cy="407.3" r="1.85" fill="#dbdb8d"/>
<circle cx="427.2" cy="405.2" r="1.85" fill="#9467bd"/>
<circle cx="411.4" cy="408.6" r="1.85" fill="#9edae5"/>
<circle cx="422.3" cy="409.3" r="1.85" fill="#e377c2"/>
<circle cx="426.5" cy="411.2" r="1.85" fill="#9edae5"/>
<circle cx="430.0" cy="408.7" r="1.85" fill="#ffbb78"/>
<circle cx="433.1" cy="408.7" r="1.85" fill="#7f7f7f"/>
<circle cx="436.3" cy="410.5" r="1.85" fill="#c7c7c7"/>
<circle cx="440.8" cy="409.4" r="1.85" fill="#9467bd"/>
<circle cx="443.7" cy="412.2" r="1.85" fill="#9467bd"/>
<circle cx="434.9" cy="414.3" r="1.85" fill="#c5b0d5"/>
<circle cx="438.0" cy="414.7" r="1.85" fill="#c5b0d5"/>
<circle cx="440.8" cy="415.0" r="1.85" fill="#c5b0d5"/>
<circle cx="439.4" cy="416.4" r="1.85" fill="#c5b0d5"/>
<circle cx="414.2" cy="416.4" r="1.85" fill="#ff7f0e"/>
<circle cx="412.8" cy="416.4" r="1.85" fill="#ff7f0e"/>
<circle cx="419.1" cy="415.4" r="1.85" fill="#ff9896"/>
<circle cx="421.6" cy="414.3" r="1.85" fill="#ff9896"/>
<circle cx="427.9" cy="416.1" r="1.85" fill="#9467bd"/>
<circle cx="403.7" cy="417.8" r="1.85" fill="#9edae5"/>
<circle cx="433.1" cy="417.5" r="1.85" fill="#c7c7c7"/>
<circle cx="423.7" cy="419.5" r="1.85" fill="#e377c2"/>
<circle cx="415.1" cy="422.3" r="1.85" fill="#dbdb8d"/>
<circle cx="420.9" cy="422.6" r="1.85" fill="#c5b0d5"/>
<circle cx="426.5" cy="421.9" r="1.85" fill="#9467bd"/>
<circle cx="437.0" cy="421.9" r="1.85" fill="#9edae5"/>
<circle cx="434.5" cy="421.6" r="1.85" fill="#9467bd"/>
<circle cx="433.1" cy="424.4" r="1.85" fill="#9467bd"/>
<circle cx="433.8" cy="426.8" r="1.85" fill="#c5b0d5"/>
<circle cx="441.9" cy="424.4" r="1.85" fill="#f7b6d2"/>
<circle cx="415.3" cy="426.5" r="1.85" fill="#ff9896"/>
<circle cx="419.8" cy="427.9" r="1.85" fill="#ff9896"/>
<circle cx="418.1" cy="426.5" r="1.85" fill="#ff7f0e"/>
<circle cx="424.7" cy="425.8" r="1.85" fill="#c5b0d5"/>
<circle cx="426.5" cy="426.5" r="1.85" fill="#c5b0d5"/>
<circle cx="424.4" cy="428.6" r="1.85" fill="#9467bd"/>
<circle cx="423.3" cy="431.0" r="1.85" fill="#c5b0d5"/>
<circle cx="410.7" cy="427.9" r="1.85" fill="#9edae5"/>
<circle cx="405.8" cy="428.9" r="1.85" fill="#9467bd"/>
<circle cx="407.2" cy="430.3" r="1.85" fill="#9467bd"/>
<circle cx="412.8" cy="431.7" r="1.85" fill="#9edae5"/>
<circle cx="414.9" cy="431.7" r="1.85" fill="#9edae5"/>
<circle cx="456.8" cy="386.4" r="1.85" fill="#8c564b"/>
<circle cx="458.6" cy="385.7" r="1.85" fill="#7f7f7f"/>
<circle cx="461.7" cy="385.4" r="1.85" fill="#ffbb78"/>
<circle cx="442.8" cy="396.6" r="1.85" fill="#7f7f7f"/>
<circle cx="450.5" cy="395.2" r="1.85" fill="#dbdb8d"/>
<circle cx="450.5" cy="398.0" r="1.85" fill="#dbdb8d"/>
<circle cx="450.5" cy="399.7" r="1.85" fill="#e377c2"/>
<circle cx="455.1" cy="396.9" r="1.85" fill="#e377c2"/>
<circle cx="467.0" cy="398.0" r="1.85" fill="#c7c7c7"/>
<circle cx="463.5" cy="402.2" r="1.85" fill="#c7c7c7"/>
<circle cx="465.9" cy="401.8" r="1.85" fill="#bcbd22"/>
<circle cx="458.8" cy="401.1" r="1.85" fill="#9467bd"/>
<circle cx="457.2" cy="405.3" r="1.85" fill="#9467bd"/>
<circle cx="455.4" cy="406.4" r="1.85" fill="#c5b0d5"/>
<circle cx="446.0" cy="405.7" r="1.85" fill="#9467bd"/>
<circle cx="466.6" cy="406.0" r="1.85" fill="#9edae5"/>
<circle cx="463.1" cy="409.9" r="1.85" fill="#9edae5"/>
<circle cx="465.9" cy="409.5" r="1.85" fill="#9edae5"/>
<circle cx="468.7" cy="409.9" r="1.85" fill="#9edae5"/>
<circle cx="444.9" cy="412.3" r="1.85" fill="#9467bd"/>
<circle cx="451.6" cy="413.4" r="1.85" fill="#9467bd"/>
<circle cx="449.1" cy="410.9" r="1.85" fill="#9edae5"/>
<circle cx="447.0" cy="409.9" r="1.85" fill="#c5b0d5"/>
<circle cx="460.0" cy="414.1" r="1.85" fill="#c49c94"/>
<circle cx="440.4" cy="418.6" r="1.85" fill="#c5b0d5"/>
<circle cx="446.3" cy="417.0" r="1.85" fill="#f7b6d2"/>
<circle cx="447.7" cy="419.5" r="1.85" fill="#f7b6d2"/>
<circle cx="448.8" cy="421.2" r="1.85" fill="#f7b6d2"/>
<circle cx="451.9" cy="418.4" r="1.85" fill="#f7b6d2"/>
<circle cx="445.6" cy="426.1" r="1.85" fill="#f7b6d2"/>
<circle cx="450.5" cy="426.8" r="1.85" fill="#f7b6d2"/>
<circle cx="455.6" cy="426.3" r="1.85" fill="#f7b6d2"/>
<circle cx="463.5" cy="418.8" r="1.85" fill="#f7b6d2"/>
<circle cx="466.3" cy="418.8" r="1.85" fill="#f7b6d2"/>
<circle cx="470.1" cy="420.2" r="1.85" fill="#f7b6d2"/>
<circle cx="463.1" cy="425.8" r="1.85" fill="#f7b6d2"/>
<circle cx="465.2" cy="423.7" r="1.85" fill="#f7b6d2"/>
<circle cx="467.7" cy="424.7" r="1.85" fill="#f7b6d2"/>
<circle cx="473.3" cy="414.9" r="1.85" fill="#f7b6d2"/>
<circle cx="475.4" cy="417.7" r="1.85" fill="#f7b6d2"/>
<circle cx="477.1" cy="418.8" r="1.85" fill="#f7b6d2"/>
<circle cx="480.1" cy="414.3" r="1.85" fill="#f7b6d2"/>
<circle cx="471.5" cy="426.8" r="1.85" fill="#f7b6d2"/>
<circle cx="473.6" cy="424.7" r="1.85" fill="#f7b6d2"/>
<circle cx="475.0" cy="427.2" r="1.85" fill="#f7b6d2"/>
<circle cx="477.5" cy="427.5" r="1.85" fill="#f7b6d2"/>
<circle cx="497.2" cy="451.9" r="1.85" fill="#9467bd"/>
<circle cx="495.8" cy="453.3" r="1.85" fill="#9467bd"/>
<circle cx="494.0" cy="454.0" r="1.85" fill="#9467bd"/>
<circle cx="497.2" cy="456.8" r="1.85" fill="#9edae5"/>
<circle cx="503.5" cy="459.6" r="1.85" fill="#d62728"/>
<circle cx="485.6" cy="462.4" r="1.85" fill="#d62728"/>
<circle cx="483.5" cy="464.5" r="1.85" fill="#d62728"/>
<circle cx="481.8" cy="465.9" r="1.85" fill="#d62728"/>
<circle cx="490.9" cy="461.7" r="1.85" fill="#d62728"/>
<circle cx="495.1" cy="462.1" r="1.85" fill="#d62728"/>
<circle cx="498.9" cy="461.4" r="1.85" fill="#17becf"/>
<circle cx="498.6" cy="464.5" r="1.85" fill="#17becf"/>
<circle cx="501.7" cy="465.2" r="1.85" fill="#d62728"/>
<circle cx="507.0" cy="464.2" r="1.85" fill="#aec7e8"/>
<circle cx="505.2" cy="466.6" r="1.85" fill="#1f77b4"/>
<circle cx="500.0" cy="467.7" r="1.85" fill="#1f77b4"/>
<circle cx="491.6" cy="464.9" r="1.85" fill="#1f77b4"/>
<circle cx="494.7" cy="465.2" r="1.85" fill="#1f77b4"/>
<circle cx="493.0" cy="467.3" r="1.85" fill="#1f77b4"/>
<circle cx="495.4" cy="470.1" r="1.85" fill="#1f77b4"/>
<circle cx="491.6" cy="470.8" r="1.85" fill="#1f77b4"/>
<circle cx="487.0" cy="471.5" r="1.85" fill="#1f77b4"/>
<circle cx="492.6" cy="468.7" r="1.85" fill="#17becf"/>
<circle cx="483.2" cy="470.5" r="1.85" fill="#d62728"/>
<circle cx="480.4" cy="470.8" r="1.85" fill="#d62728"/>
<circle cx="489.1" cy="474.3" r="1.85" fill="#17becf"/>
<circle cx="490.5" cy="474.7" r="1.85" fill="#17becf"/>
<circle cx="487.0" cy="474.0" r="1.85" fill="#17becf"/>
<circle cx="484.2" cy="475.7" r="1.85" fill="#1f77b4"/>
<circle cx="485.6" cy="476.8" r="1.85" fill="#1f77b4"/>
<circle cx="480.7" cy="477.8" r="1.85" fill="#1f77b4"/>
<circle cx="480.4" cy="474.3" r="1.85" fill="#c49c94"/>
<circle cx="484.9" cy="481.3" r="1.85" fill="#1f77b4"/>
<circle cx="486.3" cy="483.8" r="1.85" fill="#1f77b4"/>
<circle cx="489.5" cy="482.7" r="1.85" fill="#17becf"/>
<circle cx="482.1" cy="484.5" r="1.85" fill="#17becf"/>
<circle cx="470.1" cy="465.2" r="1.85" fill="#d62728"/>
<circle cx="472.9" cy="463.8" r="1.85" fill="#d62728"/>
<circle cx="471.9" cy="467.0" r="1.85" fill="#d62728"/>
<circle cx="474.7" cy="467.3" r="1.85" fill="#d62728"/>
<circle cx="473.6" cy="470.1" r="1.85" fill="#d62728"/>
<circle cx="475.7" cy="468.0" r="1.85" fill="#d62728"/>
<circle cx="478.5" cy="470.8" r="1.85" fill="#d62728"/>
<circle cx="484.8" cy="463.8" r="1.85" fill="#d62728"/>
<circle cx="460.3" cy="468.4" r="1.85" fill="#c49c94"/>
<circle cx="455.8" cy="471.2" r="1.85" fill="#17becf"/>
<circle cx="457.2" cy="473.6" r="1.85" fill="#17becf"/>
<circle cx="463.1" cy="470.1" r="1.85" fill="#17becf"/>
<circle cx="463.1" cy="473.3" r="1.85" fill="#17becf"/>
<circle cx="453.7" cy="475.4" r="1.85" fill="#17becf"/>
<circle cx="451.2" cy="478.5" r="1.85" fill="#17becf"/>
<circle cx="457.2" cy="477.8" r="1.85" fill="#17becf"/>
<circle cx="453.7" cy="480.3" r="1.85" fill="#17becf"/>
<circle cx="455.8" cy="482.0" r="1.85" fill="#17becf"/>
<circle cx="462.4" cy="478.2" r="1.85" fill="#17becf"/>
<circle cx="463.5" cy="480.3" r="1.85" fill="#17becf"/>
<circle cx="467.3" cy="478.2" r="1.85" fill="#17becf"/>
<circle cx="454.0" cy="483.4" r="1.85" fill="#17becf"/>
<circle cx="447.4" cy="483.4" r="1.85" fill="#c49c94"/>
<circle cx="469.8" cy="483.8" r="1.85" fill="#c49c94"/>
<circle cx="477.1" cy="479.2" r="1.85" fill="#1f77b4"/>
<circle cx="476.4" cy="483.8" r="1.85" fill="#1f77b4"/>
<circle cx="455.0" cy="481.0" r="1.85" fill="#17becf"/>
<circle cx="457.5" cy="480.5" r="1.85" fill="#17becf"/>
<circle cx="451.5" cy="482.0" r="1.85" fill="#17becf"/>
<circle cx="447.7" cy="488.2" r="1.85" fill="#c49c94"/>
<circle cx="455.1" cy="489.6" r="1.85" fill="#c49c94"/>
<circle cx="451.2" cy="490.3" r="1.85" fill="#d62728"/>
<circle cx="449.8" cy="492.7" r="1.85" fill="#1f77b4"/>
<circle cx="468.0" cy="486.4" r="1.85" fill="#c49c94"/>
<circle cx="464.9" cy="486.4" r="1.85" fill="#c49c94"/>
<circle cx="464.5" cy="488.5" r="1.85" fill="#c49c94"/>
<circle cx="467.3" cy="489.6" r="1.85" fill="#c49c94"/>
<circle cx="469.4" cy="490.6" r="1.85" fill="#c49c94"/>
<circle cx="465.9" cy="492.0" r="1.85" fill="#c49c94"/>
<circle cx="463.1" cy="493.1" r="1.85" fill="#c49c94"/>
<circle cx="460.3" cy="493.8" r="1.85" fill="#c49c94"/>
<circle cx="457.9" cy="493.1" r="1.85" fill="#c49c94"/>
<circle cx="455.8" cy="495.2" r="1.85" fill="#c49c94"/>
<circle cx="453.7" cy="496.9" r="1.85" fill="#c49c94"/>
<circle cx="470.8" cy="494.8" r="1.85" fill="#c49c94"/>
<circle cx="465.9" cy="495.5" r="1.85" fill="#d62728"/>
<circle cx="472.9" cy="492.4" r="1.85" fill="#d62728"/>
<circle cx="459.6" cy="495.9" r="1.85" fill="#aec7e8"/>
<circle cx="463.1" cy="497.3" r="1.85" fill="#aec7e8"/>
<circle cx="469.4" cy="496.9" r="1.85" fill="#aec7e8"/>
<circle cx="473.3" cy="493.8" r="1.85" fill="#aec7e8"/>
<circle cx="465.6" cy="500.4" r="1.85" fill="#aec7e8"/>
<circle cx="467.7" cy="501.8" r="1.85" fill="#aec7e8"/>
<circle cx="464.9" cy="504.3" r="1.85" fill="#aec7e8"/>
<circle cx="462.8" cy="505.7" r="1.85" fill="#aec7e8"/>
<circle cx="467.0" cy="506.0" r="1.85" fill="#aec7e8"/>
<circle cx="463.8" cy="508.1" r="1.85" fill="#aec7e8"/>
<circle cx="468.0" cy="508.8" r="1.85" fill="#aec7e8"/>
<circle cx="465.9" cy="511.6" r="1.85" fill="#aec7e8"/>
<circle cx="471.5" cy="504.3" r="1.85" fill="#aec7e8"/>
<circle cx="475.0" cy="504.3" r="1.85" fill="#aec7e8"/>
<circle cx="478.2" cy="503.2" r="1.85" fill="#aec7e8"/>
<circle cx="475.4" cy="506.4" r="1.85" fill="#aec7e8"/>
<circle cx="466.0" cy="503.0" r="1.85" fill="#aec7e8"/>
<circle cx="475.7" cy="500.4" r="1.85" fill="#1f77b4"/>
<circle cx="478.5" cy="499.0" r="1.85" fill="#1f77b4"/>
<circle cx="484.8" cy="499.7" r="1.85" fill="#1f77b4"/>
<circle cx="487.0" cy="498.0" r="1.85" fill="#1f77b4"/>
<circle cx="480.3" cy="497.3" r="1.85" fill="#d62728"/>
<circle cx="483.8" cy="495.2" r="1.85" fill="#d62728"/>
<circle cx="475.7" cy="488.5" r="1.85" fill="#17becf"/>
<circle cx="479.2" cy="478.4" r="1.85" fill="#1f77b4"/>
<circle cx="478.2" cy="486.8" r="1.85" fill="#1f77b4"/>
<circle cx="482.7" cy="488.2" r="1.85" fill="#1f77b4"/>
<circle cx="484.8" cy="491.0" r="1.85" fill="#1f77b4"/>
<circle cx="485.3" cy="478.0" r="1.85" fill="#1f77b4"/>
<circle cx="483.9" cy="489.9" r="1.85" fill="#1f77b4"/>
<circle cx="493.7" cy="490.6" r="1.85" fill="#aec7e8"/>
<circle cx="492.6" cy="493.1" r="1.85" fill="#aec7e8"/>
<circle cx="500.0" cy="503.9" r="1.85" fill="#d62728"/>
<circle cx="502.4" cy="504.6" r="1.85" fill="#d62728"/>
<circle cx="504.9" cy="504.3" r="1.85" fill="#d62728"/>
<circle cx="584.4" cy="392.4" r="1.85" fill="#c49c94"/>
<circle cx="585.3" cy="390.1" r="1.85" fill="#c49c94"/>
<circle cx="586.7" cy="387.8" r="1.85" fill="#c49c94"/>
<circle cx="587.2" cy="385.4" r="1.85" fill="#c49c94"/>
<circle cx="590.0" cy="386.8" r="1.85" fill="#c49c94"/>
<circle cx="590.5" cy="383.1" r="1.85" fill="#c49c94"/>
<circle cx="592.8" cy="380.3" r="1.85" fill="#c49c94"/>
<circle cx="595.6" cy="378.9" r="1.85" fill="#c49c94"/>
<circle cx="598.4" cy="379.3" r="1.85" fill="#c49c94"/>
<circle cx="601.2" cy="381.7" r="1.85" fill="#c49c94"/>
<circle cx="603.1" cy="385.4" r="1.85" fill="#c49c94"/>
<circle cx="599.8" cy="386.8" r="1.85" fill="#c49c94"/>
<circle cx="598.0" cy="384.0" r="1.85" fill="#c49c94"/>
<circle cx="593.3" cy="389.6" r="1.85" fill="#c49c94"/>
<circle cx="588.1" cy="390.6" r="1.85" fill="#c49c94"/>
<circle cx="592.4" cy="385.0" r="1.85" fill="#c49c94"/>
<circle cx="595.2" cy="383.1" r="1.85" fill="#c49c94"/>
<circle cx="589.0" cy="388.5" r="1.85" fill="#c49c94"/>
<circle cx="597.0" cy="381.5" r="1.85" fill="#c49c94"/>
<circle cx="602.0" cy="383.5" r="1.85" fill="#c49c94"/>
<circle cx="608.7" cy="381.2" r="1.85" fill="#98df8a"/>
<circle cx="612.9" cy="379.3" r="1.85" fill="#98df8a"/>
<circle cx="616.2" cy="376.5" r="1.85" fill="#98df8a"/>
<circle cx="619.9" cy="375.1" r="1.85" fill="#98df8a"/>
<circle cx="620.9" cy="379.3" r="1.85" fill="#98df8a"/>
<circle cx="624.6" cy="375.6" r="1.85" fill="#98df8a"/>
<circle cx="626.9" cy="378.4" r="1.85" fill="#98df8a"/>
<circle cx="629.7" cy="377.0" r="1.85" fill="#98df8a"/>
<circle cx="632.5" cy="378.4" r="1.85" fill="#98df8a"/>
<circle cx="619.0" cy="377.0" r="1.85" fill="#98df8a"/>
<circle cx="621.5" cy="376.5" r="1.85" fill="#98df8a"/>
<circle cx="623.0" cy="379.5" r="1.85" fill="#98df8a"/>
<circle cx="625.5" cy="381.0" r="1.85" fill="#98df8a"/>
<circle cx="627.5" cy="380.5" r="1.85" fill="#98df8a"/>
<circle cx="630.0" cy="380.0" r="1.85" fill="#98df8a"/>
<circle cx="631.0" cy="376.5" r="1.85" fill="#98df8a"/>
<circle cx="620.0" cy="381.5" r="1.85" fill="#98df8a"/>
<circle cx="622.5" cy="375.0" r="1.85" fill="#98df8a"/>
<circle cx="617.5" cy="380.0" r="1.85" fill="#98df8a"/>
<circle cx="626.0" cy="376.0" r="1.85" fill="#98df8a"/>
<circle cx="628.5" cy="375.5" r="1.85" fill="#98df8a"/>
<circle cx="623.5" cy="385.5" r="1.85" fill="#98df8a"/>
<circle cx="627.5" cy="385.2" r="1.85" fill="#98df8a"/>
<circle cx="631.5" cy="385.5" r="1.85" fill="#98df8a"/>
<circle cx="618.5" cy="378.9" r="1.85" fill="#98df8a"/>
<circle cx="621.3" cy="385.9" r="1.85" fill="#98df8a"/>
<circle cx="625.5" cy="385.0" r="1.85" fill="#98df8a"/>
<circle cx="629.7" cy="385.4" r="1.85" fill="#98df8a"/>
<circle cx="617.1" cy="375.1" r="1.85" fill="#98df8a"/>
<circle cx="623.7" cy="377.9" r="1.85" fill="#98df8a"/>
</g>
<g fill="none">
<path d="M46.15 43.5H302.15M46.15 242.5H302.15" stroke="#2e2e2e" stroke-width="1"/>
<path d="M46.60 43.5V242.5M301.70 43.5V242.5" stroke="#3a3a3a" stroke-width="0.95"/>
<path d="M388.15 43.5H644.15M388.15 242.5H644.15" stroke="#2e2e2e" stroke-width="1"/>
<path d="M388.60 43.5V242.5M643.70 43.5V242.5" stroke="#3a3a3a" stroke-width="0.95"/>
<path d="M46.15 321.5H302.15M46.15 520.5H302.15" stroke="#2e2e2e" stroke-width="1"/>
<path d="M46.60 321.5V520.5M301.70 321.5V520.5" stroke="#3a3a3a" stroke-width="0.95"/>
<path d="M388.15 321.5H644.15M388.15 520.5H644.15" stroke="#2e2e2e" stroke-width="1"/>
<path d="M388.60 321.5V520.5M643.70 321.5V520.5" stroke="#3a3a3a" stroke-width="0.95"/>
</g>
</svg>
</body></html>
